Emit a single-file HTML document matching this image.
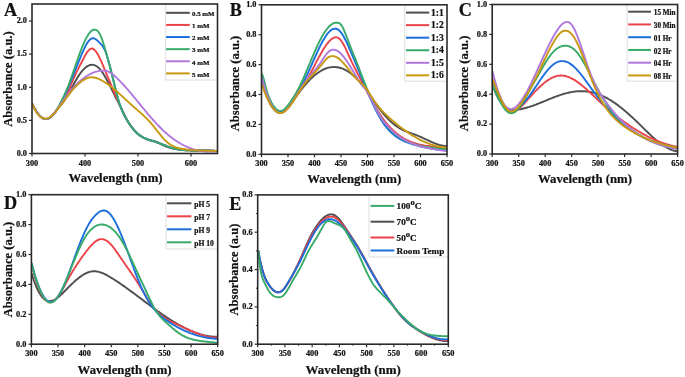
<!DOCTYPE html>
<html><head><meta charset="utf-8"><style>
html,body{margin:0;padding:0;background:#fff;}
svg{display:block;}
text{font-family:"Liberation Serif", serif;fill:#111;stroke:#111;stroke-width:0.22px;}
svg{-webkit-font-smoothing:antialiased;will-change:transform;filter:blur(0.3px);}
</style></head><body>
<svg width="685" height="377" viewBox="0 0 685 377">
<rect width="685" height="377" fill="#fff"/>
<clipPath id="clipA"><rect x="32.00" y="4.00" width="185.50" height="149.50"/></clipPath>
<g clip-path="url(#clipA)" fill="none" stroke-width="1.90" stroke-linejoin="round" stroke-linecap="round">
<path d="M32.2 104.0 L33.2 106.0 34.2 107.8 35.2 109.6 36.2 111.2 37.2 112.7 38.2 114.0 39.2 115.2 40.2 116.2 41.2 117.1 42.2 117.8 43.2 118.4 44.2 118.8 45.2 119.0 46.2 119.1 47.2 119.0 48.2 118.7 49.2 118.2 50.2 117.5 51.2 116.7 52.2 115.6 53.2 114.4 54.2 113.2 55.2 111.8 56.2 110.5 57.2 109.2 58.2 108.0 59.2 106.9 60.2 105.7 61.2 104.6 62.2 103.4 63.2 102.2 64.2 100.8 65.2 99.3 66.2 97.7 67.2 96.1 68.2 94.4 69.2 92.6 70.2 90.7 71.2 88.9 72.2 87.0 73.2 85.2 74.2 83.3 75.2 81.5 76.2 79.7 77.2 78.0 78.2 76.4 79.2 74.9 80.2 73.5 81.2 72.1 82.2 70.9 83.2 69.8 84.2 68.8 85.2 67.8 86.2 67.0 87.2 66.4 88.2 65.8 89.2 65.4 90.2 65.0 91.2 64.9 92.2 64.8 93.2 64.9 94.2 65.1 95.2 65.5 96.2 66.0 97.2 66.6 98.2 67.4 99.2 68.4 100.2 69.5 101.2 70.8 102.2 72.1 103.2 73.6 104.2 75.2 105.2 76.9 106.2 78.7 107.2 80.5 108.2 82.4 109.2 84.3 110.2 86.3 111.2 88.3 112.2 90.3 113.2 92.3 114.2 94.4 115.2 96.5 116.2 98.5 117.2 100.4 118.2 102.2 119.2 104.0 120.2 106.0 121.2 108.1 122.2 110.2 123.2 112.3 124.2 114.4 125.2 116.4 126.2 118.4 127.2 120.2 128.2 122.0 129.2 123.6 130.2 125.2 131.2 126.6 132.2 128.0 133.2 129.2 134.2 130.4 135.2 131.5 136.2 132.5 137.2 133.4 138.2 134.2 139.2 135.0 140.2 135.7 141.2 136.4 142.2 137.0 143.2 137.5 144.2 138.0 145.2 138.5 146.2 138.9 147.2 139.2 148.2 139.5 149.2 139.8 150.2 140.1 151.2 140.3 152.2 140.6 153.2 140.8 154.2 141.1 155.2 141.4 156.2 141.8 157.2 142.2 158.2 142.7 159.2 143.2 160.2 143.7 161.2 144.3 162.2 144.8 163.2 145.3 164.2 145.7 165.2 146.2 166.2 146.6 167.2 146.9 168.2 147.2 169.2 147.5 170.2 147.8 171.2 148.0 172.2 148.3 173.2 148.5 174.2 148.6 175.2 148.8 176.2 148.9 177.2 149.1 178.2 149.2 179.2 149.3 180.2 149.4 181.2 149.5 182.2 149.6 183.2 149.7 184.2 149.7 185.2 149.8 186.2 149.9 187.2 150.0 188.2 150.0 189.2 150.1 190.2 150.2 191.2 150.2 192.2 150.3 193.2 150.3 194.2 150.4 195.2 150.4 196.2 150.5 197.2 150.5 198.2 150.6 199.2 150.6 200.2 150.6 201.2 150.7 202.2 150.7 203.2 150.7 204.2 150.8 205.2 150.8 206.2 150.8 207.2 150.8 208.2 150.9 209.2 150.9 210.2 150.9 211.2 150.9 212.2 150.9 213.2 151.0 214.2 151.0 215.2 151.0 216.2 151.0 217.2 151.0 217.5 151.0" stroke="#4F4F4F"/>
<path d="M32.2 104.0 L33.2 105.9 34.2 107.8 35.2 109.5 36.2 111.2 37.2 112.7 38.2 114.0 39.2 115.2 40.2 116.3 41.2 117.2 42.2 118.0 43.2 118.5 44.2 118.9 45.2 119.1 46.2 119.1 47.2 118.9 48.2 118.5 49.2 118.0 50.2 117.3 51.2 116.5 52.2 115.5 53.2 114.5 54.2 113.3 55.2 112.1 56.2 110.8 57.2 109.5 58.2 108.2 59.2 106.8 60.2 105.3 61.2 103.9 62.2 102.3 63.2 100.7 64.2 99.0 65.2 97.2 66.2 95.3 67.2 93.3 68.2 91.2 69.2 89.0 70.2 86.7 71.2 84.3 72.2 81.9 73.2 79.5 74.2 77.2 75.2 75.0 76.2 72.9 77.2 70.8 78.2 68.8 79.2 66.9 80.2 64.9 81.2 63.0 82.2 61.0 83.2 59.1 84.2 57.2 85.2 55.3 86.2 53.7 87.2 52.1 88.2 50.8 89.2 49.8 90.2 49.0 91.2 48.6 92.2 48.5 93.2 48.9 94.2 49.6 95.2 50.6 96.2 51.8 97.2 53.4 98.2 55.1 99.2 57.0 100.2 59.1 101.2 61.3 102.2 63.5 103.2 65.9 104.2 68.3 105.2 70.7 106.2 73.1 107.2 75.6 108.2 78.0 109.2 80.4 110.2 82.7 111.2 85.1 112.2 87.5 113.2 89.9 114.2 92.2 115.2 94.6 116.2 96.9 117.2 99.2 118.2 101.5 119.2 103.8 120.2 106.1 121.2 108.4 122.2 110.6 123.2 112.7 124.2 114.8 125.2 116.7 126.2 118.6 127.2 120.3 128.2 122.0 129.2 123.5 130.2 125.0 131.2 126.4 132.2 127.7 133.2 129.0 134.2 130.1 135.2 131.2 136.2 132.2 137.2 133.2 138.2 134.0 139.2 134.9 140.2 135.6 141.2 136.3 142.2 136.9 143.2 137.5 144.2 138.0 145.2 138.5 146.2 138.9 147.2 139.3 148.2 139.7 149.2 140.0 150.2 140.3 151.2 140.6 152.2 140.9 153.2 141.2 154.2 141.5 155.2 141.8 156.2 142.2 157.2 142.5 158.2 142.8 159.2 143.2 160.2 143.6 161.2 144.0 162.2 144.3 163.2 144.7 164.2 145.1 165.2 145.5 166.2 145.9 167.2 146.3 168.2 146.6 169.2 147.0 170.2 147.3 171.2 147.7 172.2 148.0 173.2 148.2 174.2 148.5 175.2 148.7 176.2 149.0 177.2 149.2 178.2 149.4 179.2 149.5 180.2 149.7 181.2 149.8 182.2 149.9 183.2 150.0 184.2 150.1 185.2 150.2 186.2 150.3 187.2 150.3 188.2 150.4 189.2 150.4 190.2 150.4 191.2 150.5 192.2 150.5 193.2 150.5 194.2 150.5 195.2 150.5 196.2 150.5 197.2 150.5 198.2 150.5 199.2 150.5 200.2 150.5 201.2 150.5 202.2 150.4 203.2 150.4 204.2 150.4 205.2 150.4 206.2 150.4 207.2 150.5 208.2 150.5 209.2 150.5 210.2 150.5 211.2 150.6 212.2 150.6 213.2 150.7 214.2 150.8 215.2 150.9 216.2 151.0 217.2 151.1 217.5 151.1" stroke="#EC4249"/>
<path d="M32.2 103.9 L33.2 106.0 34.2 107.8 35.2 109.6 36.2 111.2 37.2 112.7 38.2 114.0 39.2 115.2 40.2 116.3 41.2 117.2 42.2 117.9 43.2 118.4 44.2 118.8 45.2 119.0 46.2 119.0 47.2 118.9 48.2 118.6 49.2 118.1 50.2 117.4 51.2 116.6 52.2 115.7 53.2 114.6 54.2 113.4 55.2 112.1 56.2 110.7 57.2 109.2 58.2 107.6 59.2 105.9 60.2 104.1 61.2 102.2 62.2 100.3 63.2 98.3 64.2 96.2 65.2 94.0 66.2 91.9 67.2 89.6 68.2 87.3 69.2 85.0 70.2 82.6 71.2 80.2 72.2 77.8 73.2 75.4 74.2 72.9 75.2 70.4 76.2 67.9 77.2 65.4 78.2 62.9 79.2 60.4 80.2 58.0 81.2 55.5 82.2 53.1 83.2 50.9 84.2 48.7 85.2 46.6 86.2 44.8 87.2 43.1 88.2 41.6 89.2 40.4 90.2 39.4 91.2 38.7 92.2 38.3 93.2 38.2 94.2 38.5 95.2 39.0 96.2 39.6 97.2 40.4 98.2 41.3 99.2 42.3 100.2 43.3 101.2 44.3 102.2 45.5 103.2 47.0 104.2 48.8 105.2 50.9 106.2 53.5 107.2 56.5 108.2 59.9 109.2 63.5 110.2 67.3 111.2 71.3 112.2 75.5 113.2 79.6 114.2 83.8 115.2 87.9 116.2 92.0 117.2 95.8 118.2 99.4 119.2 102.7 120.2 105.7 121.2 108.4 122.2 110.9 123.2 113.1 124.2 115.2 125.2 117.0 126.2 118.8 127.2 120.4 128.2 122.0 129.2 123.5 130.2 125.0 131.2 126.3 132.2 127.7 133.2 128.9 134.2 130.1 135.2 131.2 136.2 132.3 137.2 133.2 138.2 134.1 139.2 134.9 140.2 135.7 141.2 136.3 142.2 137.0 143.2 137.5 144.2 138.0 145.2 138.5 146.2 138.9 147.2 139.3 148.2 139.7 149.2 140.0 150.2 140.3 151.2 140.6 152.2 140.9 153.2 141.2 154.2 141.5 155.2 141.8 156.2 142.1 157.2 142.5 158.2 142.8 159.2 143.2 160.2 143.6 161.2 144.0 162.2 144.4 163.2 144.7 164.2 145.1 165.2 145.5 166.2 145.9 167.2 146.3 168.2 146.6 169.2 147.0 170.2 147.3 171.2 147.7 172.2 148.0 173.2 148.2 174.2 148.5 175.2 148.8 176.2 149.0 177.2 149.2 178.2 149.4 179.2 149.5 180.2 149.7 181.2 149.8 182.2 149.9 183.2 150.0 184.2 150.1 185.2 150.2 186.2 150.3 187.2 150.3 188.2 150.4 189.2 150.4 190.2 150.4 191.2 150.5 192.2 150.5 193.2 150.5 194.2 150.5 195.2 150.5 196.2 150.5 197.2 150.5 198.2 150.5 199.2 150.5 200.2 150.5 201.2 150.4 202.2 150.4 203.2 150.4 204.2 150.4 205.2 150.4 206.2 150.4 207.2 150.5 208.2 150.5 209.2 150.5 210.2 150.5 211.2 150.6 212.2 150.6 213.2 150.7 214.2 150.8 215.2 150.9 216.2 151.0 217.2 151.1 217.5 151.1" stroke="#1C6FDC"/>
<path d="M32.2 103.9 L33.2 106.0 34.2 107.9 35.2 109.7 36.2 111.4 37.2 112.8 38.2 114.1 39.2 115.3 40.2 116.3 41.2 117.1 42.2 117.8 43.2 118.3 44.2 118.7 45.2 118.9 46.2 118.9 47.2 118.8 48.2 118.5 49.2 118.1 50.2 117.5 51.2 116.8 52.2 115.9 53.2 114.8 54.2 113.6 55.2 112.3 56.2 110.8 57.2 109.1 58.2 107.3 59.2 105.4 60.2 103.4 61.2 101.4 62.2 99.4 63.2 97.4 64.2 95.4 65.2 93.2 66.2 90.9 67.2 88.5 68.2 86.0 69.2 83.4 70.2 80.6 71.2 77.8 72.2 75.0 73.2 72.1 74.2 69.2 75.2 66.3 76.2 63.4 77.2 60.5 78.2 57.7 79.2 54.9 80.2 52.2 81.2 49.5 82.2 47.0 83.2 44.6 84.2 42.3 85.2 40.2 86.2 38.2 87.2 36.4 88.2 34.7 89.2 33.3 90.2 32.1 91.2 31.1 92.2 30.3 93.2 29.8 94.2 29.6 95.2 29.7 96.2 30.0 97.2 30.7 98.2 31.7 99.2 33.1 100.2 34.9 101.2 37.1 102.2 39.7 103.2 42.7 104.2 46.0 105.2 49.4 106.2 53.0 107.2 56.7 108.2 60.4 109.2 64.1 110.2 67.9 111.2 71.8 112.2 75.7 113.2 79.7 114.2 83.7 115.2 87.8 116.2 91.8 117.2 95.7 118.2 99.4 119.2 102.7 120.2 105.7 121.2 108.3 122.2 110.7 123.2 112.9 124.2 115.0 125.2 116.9 126.2 118.7 127.2 120.4 128.2 122.1 129.2 123.6 130.2 125.1 131.2 126.5 132.2 127.8 133.2 129.0 134.2 130.2 135.2 131.3 136.2 132.3 137.2 133.2 138.2 134.1 139.2 134.9 140.2 135.6 141.2 136.3 142.2 136.9 143.2 137.5 144.2 138.0 145.2 138.4 146.2 138.9 147.2 139.2 148.2 139.6 149.2 140.0 150.2 140.3 151.2 140.6 152.2 140.9 153.2 141.2 154.2 141.5 155.2 141.8 156.2 142.2 157.2 142.5 158.2 142.9 159.2 143.2 160.2 143.6 161.2 144.0 162.2 144.4 163.2 144.8 164.2 145.2 165.2 145.5 166.2 145.9 167.2 146.3 168.2 146.7 169.2 147.0 170.2 147.3 171.2 147.7 172.2 148.0 173.2 148.2 174.2 148.5 175.2 148.7 176.2 149.0 177.2 149.2 178.2 149.3 179.2 149.5 180.2 149.7 181.2 149.8 182.2 149.9 183.2 150.0 184.2 150.1 185.2 150.2 186.2 150.3 187.2 150.3 188.2 150.4 189.2 150.4 190.2 150.4 191.2 150.5 192.2 150.5 193.2 150.5 194.2 150.5 195.2 150.5 196.2 150.5 197.2 150.5 198.2 150.5 199.2 150.5 200.2 150.5 201.2 150.5 202.2 150.5 203.2 150.4 204.2 150.4 205.2 150.4 206.2 150.5 207.2 150.5 208.2 150.5 209.2 150.5 210.2 150.5 211.2 150.6 212.2 150.6 213.2 150.7 214.2 150.8 215.2 150.9 216.2 151.0 217.2 151.1 217.5 151.1" stroke="#37AA6A"/>
<path d="M32.2 103.8 L33.2 106.0 34.2 108.0 35.2 109.8 36.2 111.4 37.2 112.9 38.2 114.2 39.2 115.4 40.2 116.4 41.2 117.2 42.2 117.8 43.2 118.3 44.2 118.6 45.2 118.8 46.2 118.8 47.2 118.7 48.2 118.4 49.2 117.9 50.2 117.3 51.2 116.5 52.2 115.6 53.2 114.6 54.2 113.4 55.2 112.2 56.2 110.8 57.2 109.4 58.2 108.0 59.2 106.5 60.2 105.0 61.2 103.5 62.2 102.1 63.2 100.6 64.2 99.2 65.2 97.8 66.2 96.5 67.2 95.1 68.2 93.8 69.2 92.6 70.2 91.3 71.2 90.1 72.2 89.0 73.2 87.8 74.2 86.7 75.2 85.7 76.2 84.7 77.2 83.7 78.2 82.7 79.2 81.8 80.2 80.9 81.2 80.1 82.2 79.2 83.2 78.5 84.2 77.7 85.2 77.0 86.2 76.3 87.2 75.7 88.2 75.1 89.2 74.5 90.2 74.0 91.2 73.5 92.2 73.1 93.2 72.7 94.2 72.3 95.2 71.9 96.2 71.6 97.2 71.4 98.2 71.1 99.2 70.9 100.2 70.8 101.2 70.7 102.2 70.6 103.2 70.6 104.2 70.6 105.2 70.7 106.2 70.9 107.2 71.2 108.2 71.6 109.2 72.0 110.2 72.6 111.2 73.2 112.2 74.0 113.2 74.8 114.2 75.6 115.2 76.5 116.2 77.4 117.2 78.3 118.2 79.3 119.2 80.3 120.2 81.3 121.2 82.3 122.2 83.4 123.2 84.5 124.2 85.6 125.2 86.7 126.2 87.8 127.2 89.0 128.2 90.1 129.2 91.3 130.2 92.5 131.2 93.7 132.2 94.9 133.2 96.1 134.2 97.3 135.2 98.5 136.2 99.7 137.2 101.0 138.2 102.2 139.2 103.4 140.2 104.6 141.2 105.9 142.2 107.1 143.2 108.3 144.2 109.5 145.2 110.7 146.2 111.9 147.2 113.1 148.2 114.3 149.2 115.4 150.2 116.6 151.2 117.8 152.2 118.9 153.2 120.0 154.2 121.1 155.2 122.2 156.2 123.3 157.2 124.4 158.2 125.4 159.2 126.5 160.2 127.5 161.2 128.5 162.2 129.5 163.2 130.4 164.2 131.4 165.2 132.3 166.2 133.2 167.2 134.1 168.2 134.9 169.2 135.7 170.2 136.5 171.2 137.3 172.2 138.1 173.2 138.8 174.2 139.6 175.2 140.2 176.2 140.9 177.2 141.6 178.2 142.2 179.2 142.8 180.2 143.4 181.2 144.0 182.2 144.5 183.2 145.0 184.2 145.5 185.2 146.0 186.2 146.5 187.2 146.9 188.2 147.4 189.2 147.8 190.2 148.1 191.2 148.5 192.2 148.8 193.2 149.2 194.2 149.5 195.2 149.7 196.2 150.0 197.2 150.2 198.2 150.5 199.2 150.7 200.2 150.8 201.2 151.0 202.2 151.1 203.2 151.3 204.2 151.4 205.2 151.5 206.2 151.5 207.2 151.6 208.2 151.6 209.2 151.6 210.2 151.6 211.2 151.6 212.2 151.6 213.2 151.5 214.2 151.5 215.2 151.4 216.2 151.3 217.2 151.1 217.5 151.1" stroke="#B078DD"/>
<path d="M32.2 103.7 L33.2 106.0 34.2 108.1 35.2 110.0 36.2 111.7 37.2 113.2 38.2 114.5 39.2 115.6 40.2 116.5 41.2 117.3 42.2 117.9 43.2 118.3 44.2 118.5 45.2 118.6 46.2 118.6 47.2 118.4 48.2 118.1 49.2 117.6 50.2 117.0 51.2 116.2 52.2 115.4 53.2 114.4 54.2 113.4 55.2 112.3 56.2 111.1 57.2 109.8 58.2 108.5 59.2 107.2 60.2 105.9 61.2 104.6 62.2 103.3 63.2 101.9 64.2 100.6 65.2 99.3 66.2 98.0 67.2 96.7 68.2 95.4 69.2 94.1 70.2 92.9 71.2 91.7 72.2 90.5 73.2 89.3 74.2 88.2 75.2 87.1 76.2 86.1 77.2 85.1 78.2 84.1 79.2 83.2 80.2 82.4 81.2 81.6 82.2 80.8 83.2 80.2 84.2 79.6 85.2 79.0 86.2 78.5 87.2 78.1 88.2 77.8 89.2 77.6 90.2 77.4 91.2 77.3 92.2 77.3 93.2 77.4 94.2 77.5 95.2 77.8 96.2 78.0 97.2 78.4 98.2 78.7 99.2 79.2 100.2 79.6 101.2 80.1 102.2 80.7 103.2 81.3 104.2 81.9 105.2 82.5 106.2 83.1 107.2 83.8 108.2 84.5 109.2 85.3 110.2 86.0 111.2 86.8 112.2 87.6 113.2 88.4 114.2 89.3 115.2 90.1 116.2 91.0 117.2 91.8 118.2 92.7 119.2 93.6 120.2 94.5 121.2 95.4 122.2 96.3 123.2 97.2 124.2 98.2 125.2 99.1 126.2 100.0 127.2 100.9 128.2 101.9 129.2 102.8 130.2 103.7 131.2 104.6 132.2 105.5 133.2 106.4 134.2 107.3 135.2 108.2 136.2 109.0 137.2 109.9 138.2 110.8 139.2 111.6 140.2 112.5 141.2 113.4 142.2 114.3 143.2 115.2 144.2 116.2 145.2 117.1 146.2 118.1 147.2 119.1 148.2 120.1 149.2 121.2 150.2 122.3 151.2 123.4 152.2 124.6 153.2 125.8 154.2 127.0 155.2 128.3 156.2 129.6 157.2 130.8 158.2 132.1 159.2 133.4 160.2 134.7 161.2 135.9 162.2 137.1 163.2 138.3 164.2 139.4 165.2 140.4 166.2 141.3 167.2 142.2 168.2 143.0 169.2 143.7 170.2 144.4 171.2 145.0 172.2 145.6 173.2 146.1 174.2 146.6 175.2 147.0 176.2 147.3 177.2 147.7 178.2 148.0 179.2 148.2 180.2 148.5 181.2 148.7 182.2 148.9 183.2 149.0 184.2 149.2 185.2 149.3 186.2 149.5 187.2 149.6 188.2 149.7 189.2 149.8 190.2 149.9 191.2 150.0 192.2 150.1 193.2 150.1 194.2 150.2 195.2 150.3 196.2 150.3 197.2 150.4 198.2 150.4 199.2 150.4 200.2 150.5 201.2 150.5 202.2 150.5 203.2 150.6 204.2 150.6 205.2 150.6 206.2 150.7 207.2 150.7 208.2 150.7 209.2 150.7 210.2 150.8 211.2 150.8 212.2 150.8 213.2 150.9 214.2 150.9 215.2 151.0 216.2 151.0 217.2 151.1 217.5 151.1" stroke="#C79810"/>
</g>
<path d="M165.60 4.00 V80.00 H217.50" fill="none" stroke="#d4d4d4" stroke-width="0.8"/>
<line x1="166.10" y1="12.80" x2="189.80" y2="12.80" stroke="#4F4F4F" stroke-width="2"/>
<text x="192.00" y="16.10" font-size="6.90" text-anchor="start" font-weight="bold" >0.5 mM</text>
<line x1="166.10" y1="24.92" x2="189.80" y2="24.92" stroke="#EC4249" stroke-width="2"/>
<text x="192.00" y="28.22" font-size="6.90" text-anchor="start" font-weight="bold" >1 mM</text>
<line x1="166.10" y1="37.04" x2="189.80" y2="37.04" stroke="#1C6FDC" stroke-width="2"/>
<text x="192.00" y="40.34" font-size="6.90" text-anchor="start" font-weight="bold" >2 mM</text>
<line x1="166.10" y1="49.16" x2="189.80" y2="49.16" stroke="#37AA6A" stroke-width="2"/>
<text x="192.00" y="52.46" font-size="6.90" text-anchor="start" font-weight="bold" >3 mM</text>
<line x1="166.10" y1="61.28" x2="189.80" y2="61.28" stroke="#B078DD" stroke-width="2"/>
<text x="192.00" y="64.58" font-size="6.90" text-anchor="start" font-weight="bold" >4 mM</text>
<line x1="166.10" y1="73.40" x2="189.80" y2="73.40" stroke="#C79810" stroke-width="2"/>
<text x="192.00" y="76.70" font-size="6.90" text-anchor="start" font-weight="bold" >5 mM</text>
<rect x="32.00" y="4.00" width="185.50" height="149.50" fill="none" stroke="#2a2a2a" stroke-width="1.6"/>
<line x1="32.00" y1="153.50" x2="32.00" y2="156.50" stroke="#2a2a2a" stroke-width="1.2"/>
<text x="32.00" y="165.50" font-size="8.30" text-anchor="middle" font-weight="bold" >300</text>
<line x1="85.00" y1="153.50" x2="85.00" y2="156.50" stroke="#2a2a2a" stroke-width="1.2"/>
<text x="85.00" y="165.50" font-size="8.30" text-anchor="middle" font-weight="bold" >400</text>
<line x1="138.00" y1="153.50" x2="138.00" y2="156.50" stroke="#2a2a2a" stroke-width="1.2"/>
<text x="138.00" y="165.50" font-size="8.30" text-anchor="middle" font-weight="bold" >500</text>
<line x1="191.00" y1="153.50" x2="191.00" y2="156.50" stroke="#2a2a2a" stroke-width="1.2"/>
<text x="191.00" y="165.50" font-size="8.30" text-anchor="middle" font-weight="bold" >600</text>
<line x1="29.00" y1="153.50" x2="32.00" y2="153.50" stroke="#2a2a2a" stroke-width="1.2"/>
<text x="27.00" y="155.82" font-size="8.30" text-anchor="end" font-weight="bold" >0.0</text>
<line x1="29.00" y1="120.38" x2="32.00" y2="120.38" stroke="#2a2a2a" stroke-width="1.2"/>
<text x="27.00" y="122.70" font-size="8.30" text-anchor="end" font-weight="bold" >0.5</text>
<line x1="29.00" y1="87.25" x2="32.00" y2="87.25" stroke="#2a2a2a" stroke-width="1.2"/>
<text x="27.00" y="89.57" font-size="8.30" text-anchor="end" font-weight="bold" >1.0</text>
<line x1="29.00" y1="54.12" x2="32.00" y2="54.12" stroke="#2a2a2a" stroke-width="1.2"/>
<text x="27.00" y="56.45" font-size="8.30" text-anchor="end" font-weight="bold" >1.5</text>
<line x1="29.00" y1="21.00" x2="32.00" y2="21.00" stroke="#2a2a2a" stroke-width="1.2"/>
<text x="27.00" y="23.32" font-size="8.30" text-anchor="end" font-weight="bold" >2.0</text>
<text x="115.60" y="182.20" font-size="13.35" text-anchor="middle" font-weight="bold" textLength="94.0" lengthAdjust="spacingAndGlyphs">Wavelength (nm)</text>
<text transform="translate(12.40 79.00) rotate(-90)" x="0" y="0" font-size="13.35" text-anchor="middle" font-weight="bold" textLength="95.5" lengthAdjust="spacingAndGlyphs">Absorbance (a.u.)</text>
<text x="4.00" y="15.90" font-size="18.20" text-anchor="start" font-weight="bold" >A</text>
<clipPath id="clipB"><rect x="261.50" y="4.80" width="185.50" height="149.50"/></clipPath>
<g clip-path="url(#clipB)" fill="none" stroke-width="1.90" stroke-linejoin="round" stroke-linecap="round">
<path d="M261.7 82.4 L262.7 85.5 263.7 88.5 264.7 91.3 265.7 94.0 266.7 96.5 267.7 98.8 268.7 100.9 269.7 102.9 270.7 104.7 271.7 106.4 272.7 107.8 273.7 109.1 274.7 110.2 275.7 111.1 276.7 111.8 277.7 112.4 278.7 112.7 279.7 112.9 280.7 112.9 281.7 112.7 282.7 112.3 283.7 111.7 284.7 111.0 285.7 110.2 286.7 109.2 287.7 108.1 288.7 106.9 289.7 105.7 290.7 104.4 291.7 103.0 292.7 101.6 293.7 100.1 294.7 98.7 295.7 97.3 296.7 95.9 297.7 94.5 298.7 93.1 299.7 91.8 300.7 90.4 301.7 89.1 302.7 87.9 303.7 86.6 304.7 85.4 305.7 84.3 306.7 83.1 307.7 82.0 308.7 81.0 309.7 79.9 310.7 78.9 311.7 78.0 312.7 77.0 313.7 76.1 314.7 75.3 315.7 74.5 316.7 73.7 317.7 73.0 318.7 72.3 319.7 71.6 320.7 71.0 321.7 70.4 322.7 69.9 323.7 69.4 324.7 69.0 325.7 68.6 326.7 68.2 327.7 67.9 328.7 67.6 329.7 67.4 330.7 67.3 331.7 67.1 332.7 67.1 333.7 67.0 334.7 67.0 335.7 67.1 336.7 67.2 337.7 67.3 338.7 67.5 339.7 67.8 340.7 68.0 341.7 68.4 342.7 68.7 343.7 69.2 344.7 69.6 345.7 70.1 346.7 70.7 347.7 71.3 348.7 71.9 349.7 72.6 350.7 73.3 351.7 74.1 352.7 75.0 353.7 75.8 354.7 76.7 355.7 77.7 356.7 78.6 357.7 79.6 358.7 80.7 359.7 81.8 360.7 82.9 361.7 84.0 362.7 85.1 363.7 86.4 364.7 87.6 365.7 88.9 366.7 90.3 367.7 91.7 368.7 93.2 369.7 94.7 370.7 96.2 371.7 97.7 372.7 99.2 373.7 100.7 374.7 102.2 375.7 103.7 376.7 105.1 377.7 106.5 378.7 107.8 379.7 109.2 380.7 110.5 381.7 111.7 382.7 112.9 383.7 114.1 384.7 115.3 385.7 116.4 386.7 117.5 387.7 118.5 388.7 119.6 389.7 120.5 390.7 121.5 391.7 122.4 392.7 123.3 393.7 124.1 394.7 124.9 395.7 125.6 396.7 126.3 397.7 127.0 398.7 127.7 399.7 128.3 400.7 128.8 401.7 129.3 402.7 129.8 403.7 130.3 404.7 130.8 405.7 131.2 406.7 131.6 407.7 132.0 408.7 132.4 409.7 132.7 410.7 133.1 411.7 133.5 412.7 133.8 413.7 134.2 414.7 134.5 415.7 134.9 416.7 135.3 417.7 135.7 418.7 136.1 419.7 136.5 420.7 137.0 421.7 137.4 422.7 137.9 423.7 138.3 424.7 138.8 425.7 139.3 426.7 139.7 427.7 140.2 428.7 140.7 429.7 141.2 430.7 141.6 431.7 142.0 432.7 142.5 433.7 142.9 434.7 143.3 435.7 143.7 436.7 144.0 437.7 144.4 438.7 144.7 439.7 145.0 440.7 145.2 441.7 145.5 442.7 145.7 443.7 145.8 444.7 145.9 445.7 146.0 446.7 146.0 447.5 146.0" stroke="#4F4F4F"/>
<path d="M261.7 78.0 L262.7 81.5 263.7 84.8 264.7 88.0 265.7 90.9 266.7 93.7 267.7 96.3 268.7 98.7 269.7 101.0 270.7 103.0 271.7 104.9 272.7 106.5 273.7 108.0 274.7 109.3 275.7 110.3 276.7 111.2 277.7 111.9 278.7 112.3 279.7 112.6 280.7 112.6 281.7 112.4 282.7 112.1 283.7 111.5 284.7 110.8 285.7 109.9 286.7 108.9 287.7 107.7 288.7 106.5 289.7 105.2 290.7 103.8 291.7 102.3 292.7 100.8 293.7 99.4 294.7 97.9 295.7 96.4 296.7 94.9 297.7 93.5 298.7 92.1 299.7 90.6 300.7 89.2 301.7 87.7 302.7 86.2 303.7 84.7 304.7 83.1 305.7 81.5 306.7 79.9 307.7 78.2 308.7 76.4 309.7 74.6 310.7 72.8 311.7 70.9 312.7 69.0 313.7 67.1 314.7 65.2 315.7 63.2 316.7 61.3 317.7 59.4 318.7 57.6 319.7 55.7 320.7 53.9 321.7 52.2 322.7 50.5 323.7 48.8 324.7 47.3 325.7 45.8 326.7 44.4 327.7 43.1 328.7 41.9 329.7 40.8 330.7 39.8 331.7 39.0 332.7 38.3 333.7 37.8 334.7 37.4 335.7 37.3 336.7 37.4 337.7 37.7 338.7 38.2 339.7 39.0 340.7 40.1 341.7 41.5 342.7 43.0 343.7 44.8 344.7 46.7 345.7 48.7 346.7 50.9 347.7 53.1 348.7 55.3 349.7 57.5 350.7 59.7 351.7 61.8 352.7 63.8 353.7 65.9 354.7 67.9 355.7 69.8 356.7 71.7 357.7 73.6 358.7 75.5 359.7 77.4 360.7 79.4 361.7 81.3 362.7 83.2 363.7 85.1 364.7 87.0 365.7 89.0 366.7 90.9 367.7 92.8 368.7 94.7 369.7 96.6 370.7 98.4 371.7 100.3 372.7 102.1 373.7 103.9 374.7 105.7 375.7 107.4 376.7 109.1 377.7 110.8 378.7 112.4 379.7 113.9 380.7 115.4 381.7 116.9 382.7 118.3 383.7 119.7 384.7 121.0 385.7 122.3 386.7 123.5 387.7 124.7 388.7 125.8 389.7 126.9 390.7 128.0 391.7 129.0 392.7 130.0 393.7 130.9 394.7 131.8 395.7 132.7 396.7 133.5 397.7 134.3 398.7 135.1 399.7 135.8 400.7 136.5 401.7 137.1 402.7 137.8 403.7 138.4 404.7 138.9 405.7 139.5 406.7 140.0 407.7 140.5 408.7 140.9 409.7 141.4 410.7 141.8 411.7 142.2 412.7 142.5 413.7 142.9 414.7 143.2 415.7 143.5 416.7 143.8 417.7 144.1 418.7 144.3 419.7 144.6 420.7 144.8 421.7 145.0 422.7 145.2 423.7 145.4 424.7 145.6 425.7 145.7 426.7 145.9 427.7 146.0 428.7 146.2 429.7 146.3 430.7 146.4 431.7 146.5 432.7 146.7 433.7 146.8 434.7 146.9 435.7 147.0 436.7 147.1 437.7 147.2 438.7 147.4 439.7 147.5 440.7 147.6 441.7 147.7 442.7 147.9 443.7 148.0 444.7 148.1 445.7 148.3 446.7 148.5 447.5 148.6" stroke="#EC4249"/>
<path d="M261.7 75.7 L262.7 79.6 263.7 83.2 264.7 86.6 265.7 89.8 266.7 92.8 267.7 95.6 268.7 98.1 269.7 100.5 270.7 102.6 271.7 104.5 272.7 106.1 273.7 107.6 274.7 108.9 275.7 109.9 276.7 110.8 277.7 111.4 278.7 111.8 279.7 112.0 280.7 112.0 281.7 111.8 282.7 111.5 283.7 110.9 284.7 110.2 285.7 109.3 286.7 108.3 287.7 107.1 288.7 105.9 289.7 104.5 290.7 103.1 291.7 101.6 292.7 100.1 293.7 98.5 294.7 96.9 295.7 95.3 296.7 93.7 297.7 92.1 298.7 90.4 299.7 88.7 300.7 87.0 301.7 85.3 302.7 83.5 303.7 81.6 304.7 79.7 305.7 77.7 306.7 75.6 307.7 73.5 308.7 71.3 309.7 69.1 310.7 66.9 311.7 64.6 312.7 62.3 313.7 60.1 314.7 57.8 315.7 55.5 316.7 53.3 317.7 51.1 318.7 49.0 319.7 46.9 320.7 44.9 321.7 43.0 322.7 41.1 323.7 39.4 324.7 37.7 325.7 36.2 326.7 34.7 327.7 33.4 328.7 32.3 329.7 31.3 330.7 30.4 331.7 29.7 332.7 29.2 333.7 28.9 334.7 28.7 335.7 28.7 336.7 29.0 337.7 29.4 338.7 30.1 339.7 30.9 340.7 32.1 341.7 33.4 342.7 34.9 343.7 36.6 344.7 38.5 345.7 40.4 346.7 42.5 347.7 44.7 348.7 47.0 349.7 49.3 350.7 51.6 351.7 53.9 352.7 56.2 353.7 58.6 354.7 60.9 355.7 63.3 356.7 65.7 357.7 68.1 358.7 70.5 359.7 72.9 360.7 75.3 361.7 77.7 362.7 80.1 363.7 82.5 364.7 85.0 365.7 87.4 366.7 89.7 367.7 92.1 368.7 94.5 369.7 96.8 370.7 99.1 371.7 101.3 372.7 103.5 373.7 105.7 374.7 107.8 375.7 109.8 376.7 111.8 377.7 113.7 378.7 115.6 379.7 117.3 380.7 119.0 381.7 120.7 382.7 122.2 383.7 123.7 384.7 125.1 385.7 126.4 386.7 127.6 387.7 128.8 388.7 130.0 389.7 131.0 390.7 132.0 391.7 133.0 392.7 133.9 393.7 134.8 394.7 135.6 395.7 136.3 396.7 137.0 397.7 137.7 398.7 138.3 399.7 138.9 400.7 139.5 401.7 140.0 402.7 140.5 403.7 141.0 404.7 141.4 405.7 141.8 406.7 142.2 407.7 142.6 408.7 142.9 409.7 143.3 410.7 143.6 411.7 143.9 412.7 144.3 413.7 144.6 414.7 144.9 415.7 145.1 416.7 145.4 417.7 145.7 418.7 146.0 419.7 146.2 420.7 146.5 421.7 146.7 422.7 146.9 423.7 147.1 424.7 147.3 425.7 147.6 426.7 147.7 427.7 147.9 428.7 148.1 429.7 148.3 430.7 148.4 431.7 148.6 432.7 148.8 433.7 148.9 434.7 149.0 435.7 149.2 436.7 149.3 437.7 149.4 438.7 149.5 439.7 149.6 440.7 149.7 441.7 149.8 442.7 149.8 443.7 149.9 444.7 150.0 445.7 150.0 446.7 150.1 447.5 150.1" stroke="#1C6FDC"/>
<path d="M261.7 73.8 L262.7 75.7 263.7 78.9 264.7 82.8 265.7 86.9 266.7 90.6 267.7 93.7 268.7 96.5 269.7 98.9 270.7 101.0 271.7 103.0 272.7 104.7 273.7 106.2 274.7 107.5 275.7 108.6 276.7 109.5 277.7 110.2 278.7 110.6 279.7 110.9 280.7 110.9 281.7 110.7 282.7 110.3 283.7 109.7 284.7 108.9 285.7 108.0 286.7 106.9 287.7 105.7 288.7 104.4 289.7 103.0 290.7 101.6 291.7 100.1 292.7 98.5 293.7 97.0 294.7 95.3 295.7 93.6 296.7 91.9 297.7 90.0 298.7 88.1 299.7 86.2 300.7 84.1 301.7 82.0 302.7 79.9 303.7 77.6 304.7 75.3 305.7 73.0 306.7 70.7 307.7 68.3 308.7 65.9 309.7 63.5 310.7 61.1 311.7 58.7 312.7 56.4 313.7 54.0 314.7 51.7 315.7 49.4 316.7 47.2 317.7 45.1 318.7 42.9 319.7 40.9 320.7 39.0 321.7 37.1 322.7 35.3 323.7 33.7 324.7 32.1 325.7 30.7 326.7 29.3 327.7 28.1 328.7 27.0 329.7 26.0 330.7 25.1 331.7 24.3 332.7 23.7 333.7 23.2 334.7 22.9 335.7 22.7 336.7 22.6 337.7 22.7 338.7 22.9 339.7 23.5 340.7 24.3 341.7 25.6 342.7 27.3 343.7 29.4 344.7 31.8 345.7 34.3 346.7 37.0 347.7 39.6 348.7 42.2 349.7 44.8 350.7 47.3 351.7 49.8 352.7 52.4 353.7 54.9 354.7 57.4 355.7 59.9 356.7 62.5 357.7 65.0 358.7 67.6 359.7 70.2 360.7 72.8 361.7 75.3 362.7 77.9 363.7 80.5 364.7 83.0 365.7 85.5 366.7 88.0 367.7 90.5 368.7 92.9 369.7 95.2 370.7 97.6 371.7 99.8 372.7 102.0 373.7 104.2 374.7 106.2 375.7 108.2 376.7 110.1 377.7 111.9 378.7 113.7 379.7 115.4 380.7 117.0 381.7 118.6 382.7 120.1 383.7 121.5 384.7 122.9 385.7 124.2 386.7 125.4 387.7 126.6 388.7 127.8 389.7 128.8 390.7 129.9 391.7 130.9 392.7 131.8 393.7 132.7 394.7 133.6 395.7 134.4 396.7 135.2 397.7 135.9 398.7 136.6 399.7 137.3 400.7 137.9 401.7 138.6 402.7 139.1 403.7 139.7 404.7 140.2 405.7 140.7 406.7 141.2 407.7 141.7 408.7 142.1 409.7 142.5 410.7 142.9 411.7 143.3 412.7 143.6 413.7 144.0 414.7 144.3 415.7 144.6 416.7 144.9 417.7 145.2 418.7 145.4 419.7 145.7 420.7 145.9 421.7 146.1 422.7 146.3 423.7 146.5 424.7 146.7 425.7 146.8 426.7 147.0 427.7 147.2 428.7 147.3 429.7 147.4 430.7 147.6 431.7 147.7 432.7 147.8 433.7 147.9 434.7 148.1 435.7 148.2 436.7 148.3 437.7 148.4 438.7 148.5 439.7 148.6 440.7 148.7 441.7 148.8 442.7 148.9 443.7 149.1 444.7 149.2 445.7 149.3 446.7 149.4 447.5 149.5" stroke="#37AA6A"/>
<path d="M261.7 77.0 L262.7 80.9 263.7 84.5 264.7 87.9 265.7 91.1 266.7 94.0 267.7 96.7 268.7 99.2 269.7 101.5 270.7 103.6 271.7 105.4 272.7 107.1 273.7 108.5 274.7 109.7 275.7 110.7 276.7 111.6 277.7 112.2 278.7 112.6 279.7 112.8 280.7 112.9 281.7 112.7 282.7 112.4 283.7 111.9 284.7 111.2 285.7 110.4 286.7 109.5 287.7 108.4 288.7 107.2 289.7 105.9 290.7 104.5 291.7 103.1 292.7 101.6 293.7 100.0 294.7 98.4 295.7 96.7 296.7 95.1 297.7 93.4 298.7 91.7 299.7 90.1 300.7 88.5 301.7 86.9 302.7 85.4 303.7 83.9 304.7 82.5 305.7 81.2 306.7 79.9 307.7 78.7 308.7 77.4 309.7 76.2 310.7 75.1 311.7 73.9 312.7 72.7 313.7 71.5 314.7 70.4 315.7 69.1 316.7 67.9 317.7 66.6 318.7 65.3 319.7 64.0 320.7 62.5 321.7 61.0 322.7 59.5 323.7 58.0 324.7 56.4 325.7 55.0 326.7 53.7 327.7 52.6 328.7 51.6 329.7 50.9 330.7 50.3 331.7 49.9 332.7 49.7 333.7 49.7 334.7 49.8 335.7 50.1 336.7 50.5 337.7 51.1 338.7 51.7 339.7 52.5 340.7 53.5 341.7 54.5 342.7 55.6 343.7 56.9 344.7 58.2 345.7 59.6 346.7 61.0 347.7 62.5 348.7 64.0 349.7 65.6 350.7 67.2 351.7 68.8 352.7 70.4 353.7 72.1 354.7 73.7 355.7 75.4 356.7 77.0 357.7 78.7 358.7 80.3 359.7 81.9 360.7 83.4 361.7 84.9 362.7 86.1 363.7 87.2 364.7 88.1 365.7 89.1 366.7 90.3 367.7 91.9 368.7 93.8 369.7 95.9 370.7 98.0 371.7 100.1 372.7 102.2 373.7 104.2 374.7 106.2 375.7 108.2 376.7 110.1 377.7 112.0 378.7 113.8 379.7 115.5 380.7 117.0 381.7 118.6 382.7 120.0 383.7 121.3 384.7 122.6 385.7 123.8 386.7 125.0 387.7 126.1 388.7 127.1 389.7 128.2 390.7 129.2 391.7 130.2 392.7 131.1 393.7 132.0 394.7 132.9 395.7 133.7 396.7 134.5 397.7 135.3 398.7 136.0 399.7 136.7 400.7 137.4 401.7 138.1 402.7 138.7 403.7 139.3 404.7 139.9 405.7 140.5 406.7 141.0 407.7 141.5 408.7 142.0 409.7 142.5 410.7 142.9 411.7 143.3 412.7 143.7 413.7 144.1 414.7 144.5 415.7 144.9 416.7 145.2 417.7 145.5 418.7 145.8 419.7 146.1 420.7 146.4 421.7 146.7 422.7 146.9 423.7 147.2 424.7 147.4 425.7 147.6 426.7 147.8 427.7 148.0 428.7 148.2 429.7 148.4 430.7 148.6 431.7 148.8 432.7 149.0 433.7 149.1 434.7 149.3 435.7 149.5 436.7 149.6 437.7 149.8 438.7 149.9 439.7 150.1 440.7 150.3 441.7 150.4 442.7 150.6 443.7 150.8 444.7 150.9 445.7 151.1 446.7 151.3 447.5 151.5" stroke="#B078DD"/>
<path d="M261.7 84.1 L262.7 86.9 263.7 89.7 264.7 92.3 265.7 94.7 266.7 97.0 267.7 99.2 268.7 101.2 269.7 103.1 270.7 104.8 271.7 106.4 272.7 107.8 273.7 109.0 274.7 110.1 275.7 111.0 276.7 111.8 277.7 112.4 278.7 112.8 279.7 113.0 280.7 113.0 281.7 112.9 282.7 112.6 283.7 112.1 284.7 111.4 285.7 110.7 286.7 109.7 287.7 108.7 288.7 107.5 289.7 106.3 290.7 105.0 291.7 103.5 292.7 102.1 293.7 100.6 294.7 99.0 295.7 97.4 296.7 95.8 297.7 94.2 298.7 92.6 299.7 91.0 300.7 89.4 301.7 87.9 302.7 86.5 303.7 85.1 304.7 83.7 305.7 82.4 306.7 81.2 307.7 80.0 308.7 78.9 309.7 77.8 310.7 76.7 311.7 75.6 312.7 74.6 313.7 73.5 314.7 72.5 315.7 71.4 316.7 70.3 317.7 69.3 318.7 68.1 319.7 67.0 320.7 65.8 321.7 64.6 322.7 63.3 323.7 62.0 324.7 60.8 325.7 59.7 326.7 58.7 327.7 57.8 328.7 57.1 329.7 56.6 330.7 56.3 331.7 56.1 332.7 56.1 333.7 56.2 334.7 56.4 335.7 56.8 336.7 57.3 337.7 57.9 338.7 58.6 339.7 59.4 340.7 60.3 341.7 61.3 342.7 62.3 343.7 63.4 344.7 64.6 345.7 65.7 346.7 67.0 347.7 68.2 348.7 69.5 349.7 70.8 350.7 72.0 351.7 73.3 352.7 74.6 353.7 75.8 354.7 77.0 355.7 78.1 356.7 79.1 357.7 80.1 358.7 81.0 359.7 81.9 360.7 82.8 361.7 83.6 362.7 84.6 363.7 85.5 364.7 86.6 365.7 87.8 366.7 89.1 367.7 90.6 368.7 92.2 369.7 93.8 370.7 95.4 371.7 97.0 372.7 98.6 373.7 100.1 374.7 101.5 375.7 102.9 376.7 104.2 377.7 105.5 378.7 106.8 379.7 108.0 380.7 109.1 381.7 110.3 382.7 111.4 383.7 112.4 384.7 113.4 385.7 114.4 386.7 115.4 387.7 116.3 388.7 117.3 389.7 118.2 390.7 119.0 391.7 119.9 392.7 120.8 393.7 121.6 394.7 122.4 395.7 123.3 396.7 124.1 397.7 124.9 398.7 125.7 399.7 126.5 400.7 127.2 401.7 128.0 402.7 128.7 403.7 129.5 404.7 130.2 405.7 130.9 406.7 131.6 407.7 132.3 408.7 133.0 409.7 133.7 410.7 134.3 411.7 135.0 412.7 135.6 413.7 136.2 414.7 136.8 415.7 137.4 416.7 138.0 417.7 138.5 418.7 139.1 419.7 139.6 420.7 140.1 421.7 140.6 422.7 141.1 423.7 141.5 424.7 142.0 425.7 142.4 426.7 142.8 427.7 143.2 428.7 143.6 429.7 144.0 430.7 144.4 431.7 144.7 432.7 145.0 433.7 145.3 434.7 145.6 435.7 145.8 436.7 146.1 437.7 146.3 438.7 146.5 439.7 146.7 440.7 146.9 441.7 147.0 442.7 147.1 443.7 147.3 444.7 147.3 445.7 147.4 446.7 147.5 447.5 147.5" stroke="#C79810"/>
</g>
<path d="M404.80 4.80 V81.20 H447.00" fill="none" stroke="#d4d4d4" stroke-width="0.8"/>
<line x1="406.00" y1="12.60" x2="429.20" y2="12.60" stroke="#4F4F4F" stroke-width="2"/>
<text x="430.90" y="15.60" font-size="9.60" text-anchor="start" font-weight="bold" >1:1</text>
<line x1="406.00" y1="25.15" x2="429.20" y2="25.15" stroke="#EC4249" stroke-width="2"/>
<text x="430.90" y="28.15" font-size="9.60" text-anchor="start" font-weight="bold" >1:2</text>
<line x1="406.00" y1="37.70" x2="429.20" y2="37.70" stroke="#1C6FDC" stroke-width="2"/>
<text x="430.90" y="40.70" font-size="9.60" text-anchor="start" font-weight="bold" >1:3</text>
<line x1="406.00" y1="50.25" x2="429.20" y2="50.25" stroke="#37AA6A" stroke-width="2"/>
<text x="430.90" y="53.25" font-size="9.60" text-anchor="start" font-weight="bold" >1:4</text>
<line x1="406.00" y1="62.80" x2="429.20" y2="62.80" stroke="#B078DD" stroke-width="2"/>
<text x="430.90" y="65.80" font-size="9.60" text-anchor="start" font-weight="bold" >1:5</text>
<line x1="406.00" y1="75.35" x2="429.20" y2="75.35" stroke="#C79810" stroke-width="2"/>
<text x="430.90" y="78.35" font-size="9.60" text-anchor="start" font-weight="bold" >1:6</text>
<rect x="261.50" y="4.80" width="185.50" height="149.50" fill="none" stroke="#2a2a2a" stroke-width="1.6"/>
<line x1="261.50" y1="154.30" x2="261.50" y2="157.30" stroke="#2a2a2a" stroke-width="1.2"/>
<text x="261.50" y="166.30" font-size="8.30" text-anchor="middle" font-weight="bold" >300</text>
<line x1="288.00" y1="154.30" x2="288.00" y2="157.30" stroke="#2a2a2a" stroke-width="1.2"/>
<text x="288.00" y="166.30" font-size="8.30" text-anchor="middle" font-weight="bold" >350</text>
<line x1="314.50" y1="154.30" x2="314.50" y2="157.30" stroke="#2a2a2a" stroke-width="1.2"/>
<text x="314.50" y="166.30" font-size="8.30" text-anchor="middle" font-weight="bold" >400</text>
<line x1="341.00" y1="154.30" x2="341.00" y2="157.30" stroke="#2a2a2a" stroke-width="1.2"/>
<text x="341.00" y="166.30" font-size="8.30" text-anchor="middle" font-weight="bold" >450</text>
<line x1="367.50" y1="154.30" x2="367.50" y2="157.30" stroke="#2a2a2a" stroke-width="1.2"/>
<text x="367.50" y="166.30" font-size="8.30" text-anchor="middle" font-weight="bold" >500</text>
<line x1="394.00" y1="154.30" x2="394.00" y2="157.30" stroke="#2a2a2a" stroke-width="1.2"/>
<text x="394.00" y="166.30" font-size="8.30" text-anchor="middle" font-weight="bold" >550</text>
<line x1="420.50" y1="154.30" x2="420.50" y2="157.30" stroke="#2a2a2a" stroke-width="1.2"/>
<text x="420.50" y="166.30" font-size="8.30" text-anchor="middle" font-weight="bold" >600</text>
<line x1="447.00" y1="154.30" x2="447.00" y2="157.30" stroke="#2a2a2a" stroke-width="1.2"/>
<text x="447.00" y="166.30" font-size="8.30" text-anchor="middle" font-weight="bold" >650</text>
<line x1="258.50" y1="154.30" x2="261.50" y2="154.30" stroke="#2a2a2a" stroke-width="1.2"/>
<text x="256.50" y="156.62" font-size="8.30" text-anchor="end" font-weight="bold" >0.0</text>
<line x1="258.50" y1="124.40" x2="261.50" y2="124.40" stroke="#2a2a2a" stroke-width="1.2"/>
<text x="256.50" y="126.72" font-size="8.30" text-anchor="end" font-weight="bold" >0.2</text>
<line x1="258.50" y1="94.50" x2="261.50" y2="94.50" stroke="#2a2a2a" stroke-width="1.2"/>
<text x="256.50" y="96.82" font-size="8.30" text-anchor="end" font-weight="bold" >0.4</text>
<line x1="258.50" y1="64.60" x2="261.50" y2="64.60" stroke="#2a2a2a" stroke-width="1.2"/>
<text x="256.50" y="66.92" font-size="8.30" text-anchor="end" font-weight="bold" >0.6</text>
<line x1="258.50" y1="34.70" x2="261.50" y2="34.70" stroke="#2a2a2a" stroke-width="1.2"/>
<text x="256.50" y="37.02" font-size="8.30" text-anchor="end" font-weight="bold" >0.8</text>
<line x1="258.50" y1="4.80" x2="261.50" y2="4.80" stroke="#2a2a2a" stroke-width="1.2"/>
<text x="256.50" y="7.12" font-size="8.30" text-anchor="end" font-weight="bold" >1.0</text>
<text x="354.20" y="183.10" font-size="13.35" text-anchor="middle" font-weight="bold" textLength="94.0" lengthAdjust="spacingAndGlyphs">Wavelength (nm)</text>
<text transform="translate(238.90 83.50) rotate(-90)" x="0" y="0" font-size="13.35" text-anchor="middle" font-weight="bold" textLength="95.5" lengthAdjust="spacingAndGlyphs">Absorbance (a.u.)</text>
<text x="229.80" y="15.90" font-size="18.20" text-anchor="start" font-weight="bold" >B</text>
<clipPath id="clipC"><rect x="492.20" y="4.50" width="185.40" height="149.50"/></clipPath>
<g clip-path="url(#clipC)" fill="none" stroke-width="1.90" stroke-linejoin="round" stroke-linecap="round">
<path d="M492.4 84.8 L493.4 87.6 494.4 90.1 495.4 92.5 496.4 94.7 497.4 96.6 498.4 98.5 499.4 100.1 500.4 101.6 501.4 102.9 502.4 104.1 503.4 105.2 504.4 106.1 505.4 106.9 506.4 107.6 507.4 108.2 508.4 108.7 509.4 109.1 510.4 109.4 511.4 109.6 512.4 109.7 513.4 109.8 514.4 109.9 515.4 109.8 516.4 109.8 517.4 109.7 518.4 109.5 519.4 109.4 520.4 109.2 521.4 109.0 522.4 108.8 523.4 108.5 524.4 108.3 525.4 108.0 526.4 107.8 527.4 107.5 528.4 107.2 529.4 106.9 530.4 106.5 531.4 106.2 532.4 105.8 533.4 105.5 534.4 105.1 535.4 104.8 536.4 104.4 537.4 104.0 538.4 103.6 539.4 103.2 540.4 102.8 541.4 102.4 542.4 102.0 543.4 101.6 544.4 101.2 545.4 100.8 546.4 100.3 547.4 99.9 548.4 99.5 549.4 99.1 550.4 98.7 551.4 98.3 552.4 97.9 553.4 97.5 554.4 97.1 555.4 96.7 556.4 96.4 557.4 96.0 558.4 95.6 559.4 95.3 560.4 94.9 561.4 94.6 562.4 94.3 563.4 94.0 564.4 93.7 565.4 93.4 566.4 93.2 567.4 92.9 568.4 92.7 569.4 92.5 570.4 92.3 571.4 92.1 572.4 91.9 573.4 91.7 574.4 91.6 575.4 91.5 576.4 91.4 577.4 91.3 578.4 91.3 579.4 91.2 580.4 91.2 581.4 91.2 582.4 91.2 583.4 91.2 584.4 91.3 585.4 91.4 586.4 91.5 587.4 91.6 588.4 91.7 589.4 91.9 590.4 92.0 591.4 92.2 592.4 92.5 593.4 92.7 594.4 93.0 595.4 93.2 596.4 93.5 597.4 93.9 598.4 94.2 599.4 94.6 600.4 95.0 601.4 95.4 602.4 95.9 603.4 96.3 604.4 96.8 605.4 97.3 606.4 97.8 607.4 98.4 608.4 99.0 609.4 99.5 610.4 100.1 611.4 100.8 612.4 101.4 613.4 102.1 614.4 102.7 615.4 103.4 616.4 104.1 617.4 104.9 618.4 105.6 619.4 106.4 620.4 107.2 621.4 107.9 622.4 108.7 623.4 109.6 624.4 110.4 625.4 111.2 626.4 112.1 627.4 113.0 628.4 113.9 629.4 114.8 630.4 115.7 631.4 116.6 632.4 117.5 633.4 118.4 634.4 119.4 635.4 120.3 636.4 121.3 637.4 122.2 638.4 123.2 639.4 124.2 640.4 125.2 641.4 126.2 642.4 127.1 643.4 128.1 644.4 129.1 645.4 130.1 646.4 131.1 647.4 132.0 648.4 133.0 649.4 134.0 650.4 134.9 651.4 135.8 652.4 136.8 653.4 137.7 654.4 138.5 655.4 139.4 656.4 140.3 657.4 141.1 658.4 141.9 659.4 142.7 660.4 143.4 661.4 144.2 662.4 144.9 663.4 145.6 664.4 146.2 665.4 146.8 666.4 147.4 667.4 148.0 668.4 148.5 669.4 149.0 670.4 149.4 671.4 149.8 672.4 150.2 673.4 150.5 674.4 150.8 675.4 151.0 676.4 151.2 677.4 151.4 677.8 151.4" stroke="#4F4F4F"/>
<path d="M492.4 79.2 L493.4 82.0 494.4 84.6 495.4 87.2 496.4 89.8 497.4 92.2 498.4 94.5 499.4 96.7 500.4 98.8 501.4 100.7 502.4 102.6 503.4 104.2 504.4 105.8 505.4 107.2 506.4 108.4 507.4 109.4 508.4 110.3 509.4 111.0 510.4 111.5 511.4 111.8 512.4 111.9 513.4 111.8 514.4 111.5 515.4 111.1 516.4 110.6 517.4 109.9 518.4 109.1 519.4 108.3 520.4 107.4 521.4 106.4 522.4 105.4 523.4 104.4 524.4 103.3 525.4 102.2 526.4 101.1 527.4 99.9 528.4 98.8 529.4 97.7 530.4 96.6 531.4 95.5 532.4 94.4 533.4 93.3 534.4 92.2 535.4 91.2 536.4 90.2 537.4 89.1 538.4 88.2 539.4 87.2 540.4 86.3 541.4 85.4 542.4 84.5 543.4 83.6 544.4 82.8 545.4 82.0 546.4 81.3 547.4 80.6 548.4 79.9 549.4 79.3 550.4 78.7 551.4 78.2 552.4 77.7 553.4 77.2 554.4 76.8 555.4 76.5 556.4 76.2 557.4 75.9 558.4 75.7 559.4 75.6 560.4 75.5 561.4 75.5 562.4 75.6 563.4 75.7 564.4 75.8 565.4 76.0 566.4 76.3 567.4 76.6 568.4 77.0 569.4 77.4 570.4 77.8 571.4 78.3 572.4 78.8 573.4 79.3 574.4 79.9 575.4 80.6 576.4 81.2 577.4 81.9 578.4 82.6 579.4 83.4 580.4 84.1 581.4 84.9 582.4 85.8 583.4 86.6 584.4 87.5 585.4 88.3 586.4 89.2 587.4 90.1 588.4 91.0 589.4 91.9 590.4 92.9 591.4 93.8 592.4 94.8 593.4 95.7 594.4 96.6 595.4 97.6 596.4 98.5 597.4 99.5 598.4 100.4 599.4 101.3 600.4 102.3 601.4 103.2 602.4 104.1 603.4 105.0 604.4 105.9 605.4 106.7 606.4 107.6 607.4 108.5 608.4 109.3 609.4 110.2 610.4 111.0 611.4 111.9 612.4 112.7 613.4 113.5 614.4 114.3 615.4 115.1 616.4 115.9 617.4 116.7 618.4 117.5 619.4 118.3 620.4 119.0 621.4 119.8 622.4 120.5 623.4 121.3 624.4 122.0 625.4 122.7 626.4 123.4 627.4 124.1 628.4 124.8 629.4 125.5 630.4 126.2 631.4 126.8 632.4 127.5 633.4 128.2 634.4 128.8 635.4 129.4 636.4 130.0 637.4 130.7 638.4 131.3 639.4 131.9 640.4 132.4 641.4 133.0 642.4 133.6 643.4 134.1 644.4 134.7 645.4 135.2 646.4 135.7 647.4 136.3 648.4 136.8 649.4 137.3 650.4 137.7 651.4 138.2 652.4 138.7 653.4 139.1 654.4 139.6 655.4 140.0 656.4 140.5 657.4 140.9 658.4 141.3 659.4 141.7 660.4 142.1 661.4 142.4 662.4 142.8 663.4 143.1 664.4 143.5 665.4 143.8 666.4 144.1 667.4 144.4 668.4 144.7 669.4 145.0 670.4 145.3 671.4 145.6 672.4 145.8 673.4 146.1 674.4 146.3 675.4 146.5 676.4 146.7 677.4 146.9 677.8 147.0" stroke="#EC4249"/>
<path d="M492.4 79.0 L493.4 81.5 494.4 83.9 495.4 86.4 496.4 88.9 497.4 91.3 498.4 93.7 499.4 95.9 500.4 98.1 501.4 100.2 502.4 102.1 503.4 103.9 504.4 105.5 505.4 107.0 506.4 108.3 507.4 109.4 508.4 110.3 509.4 111.0 510.4 111.5 511.4 111.7 512.4 111.7 513.4 111.5 514.4 111.1 515.4 110.5 516.4 109.8 517.4 109.0 518.4 108.1 519.4 107.2 520.4 106.2 521.4 105.2 522.4 104.2 523.4 103.2 524.4 102.1 525.4 100.9 526.4 99.7 527.4 98.4 528.4 97.1 529.4 95.8 530.4 94.4 531.4 93.0 532.4 91.6 533.4 90.1 534.4 88.6 535.4 87.1 536.4 85.7 537.4 84.2 538.4 82.7 539.4 81.2 540.4 79.8 541.4 78.3 542.4 76.9 543.4 75.5 544.4 74.2 545.4 72.8 546.4 71.6 547.4 70.4 548.4 69.2 549.4 68.1 550.4 67.1 551.4 66.1 552.4 65.2 553.4 64.4 554.4 63.7 555.4 63.0 556.4 62.5 557.4 62.0 558.4 61.6 559.4 61.4 560.4 61.2 561.4 61.1 562.4 61.1 563.4 61.1 564.4 61.3 565.4 61.5 566.4 61.8 567.4 62.2 568.4 62.7 569.4 63.2 570.4 63.9 571.4 64.6 572.4 65.3 573.4 66.2 574.4 67.1 575.4 68.1 576.4 69.1 577.4 70.2 578.4 71.3 579.4 72.5 580.4 73.7 581.4 75.0 582.4 76.2 583.4 77.5 584.4 78.9 585.4 80.2 586.4 81.6 587.4 83.0 588.4 84.4 589.4 85.8 590.4 87.2 591.4 88.6 592.4 89.9 593.4 91.3 594.4 92.7 595.4 94.0 596.4 95.3 597.4 96.6 598.4 97.9 599.4 99.2 600.4 100.4 601.4 101.6 602.4 102.9 603.4 104.1 604.4 105.2 605.4 106.4 606.4 107.5 607.4 108.7 608.4 109.8 609.4 110.9 610.4 112.0 611.4 113.0 612.4 114.1 613.4 115.1 614.4 116.1 615.4 117.1 616.4 118.0 617.4 119.0 618.4 119.9 619.4 120.8 620.4 121.7 621.4 122.6 622.4 123.5 623.4 124.3 624.4 125.2 625.4 126.0 626.4 126.7 627.4 127.5 628.4 128.3 629.4 129.0 630.4 129.7 631.4 130.4 632.4 131.1 633.4 131.7 634.4 132.4 635.4 133.0 636.4 133.6 637.4 134.2 638.4 134.7 639.4 135.3 640.4 135.8 641.4 136.3 642.4 136.8 643.4 137.3 644.4 137.8 645.4 138.2 646.4 138.6 647.4 139.1 648.4 139.5 649.4 139.9 650.4 140.3 651.4 140.6 652.4 141.0 653.4 141.4 654.4 141.7 655.4 142.0 656.4 142.4 657.4 142.7 658.4 143.0 659.4 143.3 660.4 143.6 661.4 143.9 662.4 144.1 663.4 144.4 664.4 144.7 665.4 144.9 666.4 145.2 667.4 145.4 668.4 145.7 669.4 145.9 670.4 146.2 671.4 146.4 672.4 146.7 673.4 146.9 674.4 147.1 675.4 147.4 676.4 147.6 677.4 147.8 677.8 147.9" stroke="#1C6FDC"/>
<path d="M492.4 85.3 L493.4 87.4 494.4 89.6 495.4 91.7 496.4 93.8 497.4 96.0 498.4 98.0 499.4 100.0 500.4 101.9 501.4 103.8 502.4 105.5 503.4 107.1 504.4 108.5 505.4 109.8 506.4 110.9 507.4 111.8 508.4 112.5 509.4 112.9 510.4 113.2 511.4 113.2 512.4 113.1 513.4 112.8 514.4 112.3 515.4 111.6 516.4 110.7 517.4 109.7 518.4 108.6 519.4 107.3 520.4 105.9 521.4 104.4 522.4 102.8 523.4 101.2 524.4 99.5 525.4 97.7 526.4 95.9 527.4 94.2 528.4 92.4 529.4 90.6 530.4 88.8 531.4 87.1 532.4 85.3 533.4 83.6 534.4 81.8 535.4 80.1 536.4 78.3 537.4 76.6 538.4 74.8 539.4 73.1 540.4 71.3 541.4 69.6 542.4 67.8 543.4 66.1 544.4 64.4 545.4 62.7 546.4 61.1 547.4 59.6 548.4 58.0 549.4 56.6 550.4 55.2 551.4 54.0 552.4 52.8 553.4 51.7 554.4 50.7 555.4 49.8 556.4 49.0 557.4 48.3 558.4 47.7 559.4 47.1 560.4 46.7 561.4 46.3 562.4 46.0 563.4 45.9 564.4 45.7 565.4 45.7 566.4 45.8 567.4 45.9 568.4 46.2 569.4 46.5 570.4 46.9 571.4 47.5 572.4 48.1 573.4 48.8 574.4 49.7 575.4 50.7 576.4 51.7 577.4 52.9 578.4 54.2 579.4 55.6 580.4 57.0 581.4 58.6 582.4 60.2 583.4 61.9 584.4 63.6 585.4 65.4 586.4 67.3 587.4 69.1 588.4 71.1 589.4 73.0 590.4 74.9 591.4 76.9 592.4 78.9 593.4 80.8 594.4 82.8 595.4 84.7 596.4 86.6 597.4 88.5 598.4 90.3 599.4 92.2 600.4 93.9 601.4 95.7 602.4 97.4 603.4 99.1 604.4 100.7 605.4 102.3 606.4 103.9 607.4 105.4 608.4 106.8 609.4 108.2 610.4 109.5 611.4 110.8 612.4 112.1 613.4 113.3 614.4 114.4 615.4 115.5 616.4 116.6 617.4 117.7 618.4 118.7 619.4 119.6 620.4 120.6 621.4 121.5 622.4 122.4 623.4 123.2 624.4 124.1 625.4 124.9 626.4 125.7 627.4 126.5 628.4 127.2 629.4 128.0 630.4 128.7 631.4 129.4 632.4 130.1 633.4 130.8 634.4 131.5 635.4 132.2 636.4 132.9 637.4 133.5 638.4 134.2 639.4 134.8 640.4 135.4 641.4 136.0 642.4 136.6 643.4 137.2 644.4 137.8 645.4 138.3 646.4 138.8 647.4 139.4 648.4 139.9 649.4 140.4 650.4 140.9 651.4 141.3 652.4 141.8 653.4 142.2 654.4 142.7 655.4 143.1 656.4 143.5 657.4 143.9 658.4 144.2 659.4 144.6 660.4 144.9 661.4 145.2 662.4 145.6 663.4 145.8 664.4 146.1 665.4 146.4 666.4 146.6 667.4 146.9 668.4 147.1 669.4 147.3 670.4 147.4 671.4 147.6 672.4 147.8 673.4 147.9 674.4 148.0 675.4 148.1 676.4 148.2 677.4 148.2 677.8 148.2" stroke="#37AA6A"/>
<path d="M492.4 71.1 L493.4 75.0 494.4 78.7 495.4 82.2 496.4 85.6 497.4 88.8 498.4 91.7 499.4 94.5 500.4 97.0 501.4 99.3 502.4 101.3 503.4 103.2 504.4 104.8 505.4 106.1 506.4 107.1 507.4 108.0 508.4 108.6 509.4 108.9 510.4 109.1 511.4 109.1 512.4 108.9 513.4 108.5 514.4 107.9 515.4 107.2 516.4 106.4 517.4 105.4 518.4 104.3 519.4 103.1 520.4 101.8 521.4 100.5 522.4 99.0 523.4 97.5 524.4 95.8 525.4 94.1 526.4 92.4 527.4 90.6 528.4 88.7 529.4 86.8 530.4 84.8 531.4 82.8 532.4 80.7 533.4 78.6 534.4 76.5 535.4 74.3 536.4 72.1 537.4 70.0 538.4 67.7 539.4 65.5 540.4 63.3 541.4 61.1 542.4 58.9 543.4 56.7 544.4 54.6 545.4 52.4 546.4 50.3 547.4 48.2 548.4 46.1 549.4 44.1 550.4 42.1 551.4 40.2 552.4 38.3 553.4 36.5 554.4 34.8 555.4 33.1 556.4 31.5 557.4 30.0 558.4 28.5 559.4 27.2 560.4 26.0 561.4 24.9 562.4 23.9 563.4 23.2 564.4 22.6 565.4 22.1 566.4 21.9 567.4 21.9 568.4 22.2 569.4 22.7 570.4 23.4 571.4 24.4 572.4 25.7 573.4 27.4 574.4 29.2 575.4 31.3 576.4 33.7 577.4 36.2 578.4 38.9 579.4 41.6 580.4 44.5 581.4 47.4 582.4 50.4 583.4 53.4 584.4 56.4 585.4 59.4 586.4 62.3 587.4 65.2 588.4 68.1 589.4 70.9 590.4 73.6 591.4 76.2 592.4 78.7 593.4 81.0 594.4 83.2 595.4 85.3 596.4 87.2 597.4 89.0 598.4 90.7 599.4 92.4 600.4 93.9 601.4 95.5 602.4 96.9 603.4 98.4 604.4 99.8 605.4 101.2 606.4 102.6 607.4 104.0 608.4 105.3 609.4 106.6 610.4 107.9 611.4 109.2 612.4 110.4 613.4 111.7 614.4 112.8 615.4 114.0 616.4 115.2 617.4 116.3 618.4 117.4 619.4 118.5 620.4 119.5 621.4 120.5 622.4 121.5 623.4 122.5 624.4 123.5 625.4 124.4 626.4 125.3 627.4 126.2 628.4 127.0 629.4 127.9 630.4 128.7 631.4 129.5 632.4 130.3 633.4 131.0 634.4 131.8 635.4 132.5 636.4 133.2 637.4 133.8 638.4 134.5 639.4 135.1 640.4 135.7 641.4 136.3 642.4 136.9 643.4 137.5 644.4 138.0 645.4 138.6 646.4 139.1 647.4 139.6 648.4 140.1 649.4 140.6 650.4 141.0 651.4 141.4 652.4 141.9 653.4 142.3 654.4 142.7 655.4 143.1 656.4 143.4 657.4 143.8 658.4 144.2 659.4 144.5 660.4 144.8 661.4 145.1 662.4 145.4 663.4 145.7 664.4 146.0 665.4 146.3 666.4 146.5 667.4 146.8 668.4 147.0 669.4 147.3 670.4 147.5 671.4 147.7 672.4 147.9 673.4 148.1 674.4 148.3 675.4 148.5 676.4 148.7 677.4 148.9 677.8 149.0" stroke="#B078DD"/>
<path d="M492.4 79.0 L493.4 81.4 494.4 83.9 495.4 86.3 496.4 88.8 497.4 91.2 498.4 93.6 499.4 96.0 500.4 98.2 501.4 100.3 502.4 102.3 503.4 104.2 504.4 105.9 505.4 107.4 506.4 108.7 507.4 109.8 508.4 110.7 509.4 111.2 510.4 111.6 511.4 111.6 512.4 111.5 513.4 111.2 514.4 110.6 515.4 109.9 516.4 109.1 517.4 108.1 518.4 107.0 519.4 105.7 520.4 104.4 521.4 103.0 522.4 101.5 523.4 100.0 524.4 98.5 525.4 96.9 526.4 95.3 527.4 93.7 528.4 92.0 529.4 90.3 530.4 88.5 531.4 86.7 532.4 84.8 533.4 82.9 534.4 81.0 535.4 79.0 536.4 77.0 537.4 74.9 538.4 72.8 539.4 70.7 540.4 68.5 541.4 66.4 542.4 64.2 543.4 62.1 544.4 60.0 545.4 57.9 546.4 55.8 547.4 53.7 548.4 51.7 549.4 49.8 550.4 47.9 551.4 46.0 552.4 44.2 553.4 42.4 554.4 40.8 555.4 39.1 556.4 37.6 557.4 36.2 558.4 34.9 559.4 33.8 560.4 32.9 561.4 32.1 562.4 31.4 563.4 31.0 564.4 30.7 565.4 30.6 566.4 30.7 567.4 30.9 568.4 31.4 569.4 32.0 570.4 32.8 571.4 33.8 572.4 35.0 573.4 36.4 574.4 37.9 575.4 39.6 576.4 41.5 577.4 43.5 578.4 45.7 579.4 47.9 580.4 50.3 581.4 52.7 582.4 55.2 583.4 57.8 584.4 60.5 585.4 63.1 586.4 65.8 587.4 68.5 588.4 71.2 589.4 73.8 590.4 76.5 591.4 79.0 592.4 81.6 593.4 84.0 594.4 86.4 595.4 88.7 596.4 90.8 597.4 93.0 598.4 95.0 599.4 96.9 600.4 98.8 601.4 100.6 602.4 102.3 603.4 104.0 604.4 105.6 605.4 107.1 606.4 108.5 607.4 109.9 608.4 111.3 609.4 112.5 610.4 113.8 611.4 115.0 612.4 116.1 613.4 117.2 614.4 118.2 615.4 119.2 616.4 120.1 617.4 121.0 618.4 121.9 619.4 122.8 620.4 123.6 621.4 124.4 622.4 125.1 623.4 125.9 624.4 126.6 625.4 127.3 626.4 128.0 627.4 128.6 628.4 129.3 629.4 129.9 630.4 130.5 631.4 131.1 632.4 131.7 633.4 132.3 634.4 132.9 635.4 133.4 636.4 133.9 637.4 134.5 638.4 135.0 639.4 135.5 640.4 136.0 641.4 136.5 642.4 136.9 643.4 137.4 644.4 137.8 645.4 138.2 646.4 138.7 647.4 139.1 648.4 139.5 649.4 139.9 650.4 140.3 651.4 140.6 652.4 141.0 653.4 141.3 654.4 141.7 655.4 142.0 656.4 142.4 657.4 142.7 658.4 143.0 659.4 143.3 660.4 143.6 661.4 143.9 662.4 144.2 663.4 144.4 664.4 144.7 665.4 145.0 666.4 145.2 667.4 145.5 668.4 145.7 669.4 145.9 670.4 146.2 671.4 146.4 672.4 146.6 673.4 146.8 674.4 147.0 675.4 147.3 676.4 147.5 677.4 147.7 677.8 147.7" stroke="#C79810"/>
</g>
<path d="M627.20 4.50 V81.20 H677.60" fill="none" stroke="#d4d4d4" stroke-width="0.8"/>
<line x1="628.20" y1="11.70" x2="651.00" y2="11.70" stroke="#4F4F4F" stroke-width="2"/>
<text x="653.80" y="15.30" font-size="7.20" text-anchor="start" font-weight="bold" >15 Min</text>
<line x1="628.20" y1="24.45" x2="651.00" y2="24.45" stroke="#EC4249" stroke-width="2"/>
<text x="653.80" y="28.05" font-size="7.20" text-anchor="start" font-weight="bold" >30 Min</text>
<line x1="628.20" y1="37.20" x2="651.00" y2="37.20" stroke="#1C6FDC" stroke-width="2"/>
<text x="653.80" y="40.80" font-size="7.20" text-anchor="start" font-weight="bold" >01 Hr</text>
<line x1="628.20" y1="49.95" x2="651.00" y2="49.95" stroke="#37AA6A" stroke-width="2"/>
<text x="653.80" y="53.55" font-size="7.20" text-anchor="start" font-weight="bold" >02 Hr</text>
<line x1="628.20" y1="62.70" x2="651.00" y2="62.70" stroke="#B078DD" stroke-width="2"/>
<text x="653.80" y="66.30" font-size="7.20" text-anchor="start" font-weight="bold" >04 Hr</text>
<line x1="628.20" y1="75.45" x2="651.00" y2="75.45" stroke="#C79810" stroke-width="2"/>
<text x="653.80" y="79.05" font-size="7.20" text-anchor="start" font-weight="bold" >08 Hr</text>
<rect x="492.20" y="4.50" width="185.40" height="149.50" fill="none" stroke="#2a2a2a" stroke-width="1.6"/>
<line x1="492.20" y1="154.00" x2="492.20" y2="157.00" stroke="#2a2a2a" stroke-width="1.2"/>
<text x="492.20" y="166.00" font-size="8.30" text-anchor="middle" font-weight="bold" >300</text>
<line x1="518.69" y1="154.00" x2="518.69" y2="157.00" stroke="#2a2a2a" stroke-width="1.2"/>
<text x="518.69" y="166.00" font-size="8.30" text-anchor="middle" font-weight="bold" >350</text>
<line x1="545.17" y1="154.00" x2="545.17" y2="157.00" stroke="#2a2a2a" stroke-width="1.2"/>
<text x="545.17" y="166.00" font-size="8.30" text-anchor="middle" font-weight="bold" >400</text>
<line x1="571.66" y1="154.00" x2="571.66" y2="157.00" stroke="#2a2a2a" stroke-width="1.2"/>
<text x="571.66" y="166.00" font-size="8.30" text-anchor="middle" font-weight="bold" >450</text>
<line x1="598.14" y1="154.00" x2="598.14" y2="157.00" stroke="#2a2a2a" stroke-width="1.2"/>
<text x="598.14" y="166.00" font-size="8.30" text-anchor="middle" font-weight="bold" >500</text>
<line x1="624.63" y1="154.00" x2="624.63" y2="157.00" stroke="#2a2a2a" stroke-width="1.2"/>
<text x="624.63" y="166.00" font-size="8.30" text-anchor="middle" font-weight="bold" >550</text>
<line x1="651.11" y1="154.00" x2="651.11" y2="157.00" stroke="#2a2a2a" stroke-width="1.2"/>
<text x="651.11" y="166.00" font-size="8.30" text-anchor="middle" font-weight="bold" >600</text>
<line x1="677.60" y1="154.00" x2="677.60" y2="157.00" stroke="#2a2a2a" stroke-width="1.2"/>
<text x="677.60" y="166.00" font-size="8.30" text-anchor="middle" font-weight="bold" >650</text>
<line x1="489.20" y1="154.00" x2="492.20" y2="154.00" stroke="#2a2a2a" stroke-width="1.2"/>
<text x="487.20" y="156.32" font-size="8.30" text-anchor="end" font-weight="bold" >0.0</text>
<line x1="489.20" y1="124.10" x2="492.20" y2="124.10" stroke="#2a2a2a" stroke-width="1.2"/>
<text x="487.20" y="126.42" font-size="8.30" text-anchor="end" font-weight="bold" >0.2</text>
<line x1="489.20" y1="94.20" x2="492.20" y2="94.20" stroke="#2a2a2a" stroke-width="1.2"/>
<text x="487.20" y="96.52" font-size="8.30" text-anchor="end" font-weight="bold" >0.4</text>
<line x1="489.20" y1="64.30" x2="492.20" y2="64.30" stroke="#2a2a2a" stroke-width="1.2"/>
<text x="487.20" y="66.62" font-size="8.30" text-anchor="end" font-weight="bold" >0.6</text>
<line x1="489.20" y1="34.40" x2="492.20" y2="34.40" stroke="#2a2a2a" stroke-width="1.2"/>
<text x="487.20" y="36.72" font-size="8.30" text-anchor="end" font-weight="bold" >0.8</text>
<line x1="489.20" y1="4.50" x2="492.20" y2="4.50" stroke="#2a2a2a" stroke-width="1.2"/>
<text x="487.20" y="6.82" font-size="8.30" text-anchor="end" font-weight="bold" >1.0</text>
<text x="585.00" y="182.90" font-size="13.35" text-anchor="middle" font-weight="bold" textLength="94.0" lengthAdjust="spacingAndGlyphs">Wavelength (nm)</text>
<text transform="translate(468.20 83.40) rotate(-90)" x="0" y="0" font-size="13.35" text-anchor="middle" font-weight="bold" textLength="95.5" lengthAdjust="spacingAndGlyphs">Absorbance (a.u.)</text>
<text x="458.80" y="16.40" font-size="18.20" text-anchor="start" font-weight="bold" >C</text>
<clipPath id="clipD"><rect x="31.40" y="194.70" width="186.30" height="149.50"/></clipPath>
<g clip-path="url(#clipD)" fill="none" stroke-width="1.90" stroke-linejoin="round" stroke-linecap="round">
<path d="M31.8 273.7 L32.8 277.1 33.8 280.2 34.8 283.0 35.8 285.6 36.8 288.0 37.8 290.1 38.8 292.1 39.8 293.8 40.8 295.3 41.8 296.6 42.8 297.8 43.8 298.7 44.8 299.5 45.8 300.1 46.8 300.6 47.8 300.9 48.8 301.1 49.8 301.1 50.8 301.0 51.8 300.8 52.8 300.5 53.8 300.1 54.8 299.6 55.8 299.0 56.8 298.3 57.8 297.5 58.8 296.7 59.8 295.9 60.8 294.9 61.8 294.0 62.8 293.0 63.8 292.0 64.8 291.0 65.8 290.0 66.8 289.0 67.8 288.0 68.8 286.9 69.8 286.0 70.8 285.0 71.8 284.0 72.8 283.1 73.8 282.1 74.8 281.2 75.8 280.3 76.8 279.5 77.8 278.7 78.8 277.9 79.8 277.1 80.8 276.4 81.8 275.7 82.8 275.0 83.8 274.4 84.8 273.9 85.8 273.4 86.8 272.9 87.8 272.5 88.8 272.1 89.8 271.8 90.8 271.6 91.8 271.4 92.8 271.3 93.8 271.3 94.8 271.3 95.8 271.3 96.8 271.5 97.8 271.6 98.8 271.9 99.8 272.1 100.8 272.5 101.8 272.8 102.8 273.2 103.8 273.7 104.8 274.1 105.8 274.6 106.8 275.1 107.8 275.7 108.8 276.3 109.8 276.8 110.8 277.5 111.8 278.1 112.8 278.7 113.8 279.3 114.8 280.0 115.8 280.6 116.8 281.3 117.8 281.9 118.8 282.6 119.8 283.3 120.8 284.0 121.8 284.7 122.8 285.4 123.8 286.1 124.8 286.8 125.8 287.5 126.8 288.2 127.8 288.9 128.8 289.7 129.8 290.4 130.8 291.1 131.8 291.9 132.8 292.6 133.8 293.3 134.8 294.1 135.8 294.8 136.8 295.6 137.8 296.3 138.8 297.1 139.8 297.8 140.8 298.6 141.8 299.3 142.8 300.1 143.8 300.9 144.8 301.6 145.8 302.4 146.8 303.1 147.8 303.8 148.8 304.6 149.8 305.3 150.8 306.1 151.8 306.8 152.8 307.5 153.8 308.3 154.8 309.0 155.8 309.7 156.8 310.4 157.8 311.2 158.8 311.9 159.8 312.6 160.8 313.3 161.8 314.0 162.8 314.7 163.8 315.3 164.8 316.0 165.8 316.7 166.8 317.4 167.8 318.0 168.8 318.7 169.8 319.3 170.8 320.0 171.8 320.6 172.8 321.2 173.8 321.8 174.8 322.4 175.8 323.0 176.8 323.6 177.8 324.2 178.8 324.8 179.8 325.3 180.8 325.9 181.8 326.4 182.8 326.9 183.8 327.5 184.8 328.0 185.8 328.5 186.8 328.9 187.8 329.4 188.8 329.9 189.8 330.3 190.8 330.8 191.8 331.2 192.8 331.6 193.8 332.0 194.8 332.4 195.8 332.7 196.8 333.1 197.8 333.4 198.8 333.7 199.8 334.1 200.8 334.4 201.8 334.6 202.8 334.9 203.8 335.1 204.8 335.4 205.8 335.6 206.8 335.8 207.8 336.0 208.8 336.1 209.8 336.3 210.8 336.4 211.8 336.5 212.8 336.6 213.8 336.7 214.8 336.8 215.8 336.8 216.8 336.8 217.5 336.8" stroke="#4F4F4F"/>
<path d="M31.8 264.9 L32.8 268.9 33.8 272.7 34.8 276.2 35.8 279.6 36.8 282.7 37.8 285.5 38.8 288.2 39.8 290.6 40.8 292.8 41.8 294.7 42.8 296.5 43.8 298.0 44.8 299.3 45.8 300.3 46.8 301.2 47.8 301.8 48.8 302.2 49.8 302.3 50.8 302.3 51.8 302.0 52.8 301.5 53.8 300.9 54.8 300.0 55.8 299.0 56.8 297.9 57.8 296.6 58.8 295.2 59.8 293.7 60.8 292.1 61.8 290.5 62.8 288.7 63.8 287.0 64.8 285.2 65.8 283.3 66.8 281.5 67.8 279.7 68.8 277.9 69.8 276.1 70.8 274.4 71.8 272.7 72.8 271.0 73.8 269.4 74.8 267.8 75.8 266.2 76.8 264.7 77.8 263.1 78.8 261.7 79.8 260.2 80.8 258.8 81.8 257.4 82.8 256.0 83.8 254.6 84.8 253.3 85.8 252.0 86.8 250.7 87.8 249.5 88.8 248.2 89.8 247.0 90.8 245.9 91.8 244.8 92.8 243.8 93.8 242.8 94.8 242.0 95.8 241.2 96.8 240.6 97.8 240.0 98.8 239.6 99.8 239.3 100.8 239.1 101.8 239.1 102.8 239.2 103.8 239.4 104.8 239.8 105.8 240.3 106.8 240.9 107.8 241.6 108.8 242.4 109.8 243.4 110.8 244.4 111.8 245.5 112.8 246.7 113.8 248.0 114.8 249.3 115.8 250.7 116.8 252.1 117.8 253.5 118.8 255.0 119.8 256.5 120.8 257.9 121.8 259.4 122.8 260.8 123.8 262.3 124.8 263.7 125.8 265.2 126.8 266.6 127.8 268.0 128.8 269.5 129.8 270.9 130.8 272.4 131.8 273.8 132.8 275.3 133.8 276.8 134.8 278.3 135.8 279.8 136.8 281.3 137.8 282.9 138.8 284.4 139.8 286.0 140.8 287.6 141.8 289.2 142.8 290.9 143.8 292.6 144.8 294.3 145.8 296.0 146.8 297.7 147.8 299.3 148.8 301.0 149.8 302.5 150.8 304.0 151.8 305.5 152.8 306.8 153.8 308.1 154.8 309.3 155.8 310.4 156.8 311.4 157.8 312.4 158.8 313.3 159.8 314.2 160.8 315.0 161.8 315.8 162.8 316.5 163.8 317.3 164.8 317.9 165.8 318.6 166.8 319.2 167.8 319.8 168.8 320.4 169.8 320.9 170.8 321.5 171.8 322.0 172.8 322.5 173.8 322.9 174.8 323.4 175.8 323.9 176.8 324.3 177.8 324.8 178.8 325.2 179.8 325.7 180.8 326.2 181.8 326.6 182.8 327.1 183.8 327.5 184.8 328.0 185.8 328.5 186.8 328.9 187.8 329.4 188.8 329.8 189.8 330.3 190.8 330.7 191.8 331.2 192.8 331.6 193.8 332.0 194.8 332.4 195.8 332.8 196.8 333.2 197.8 333.6 198.8 334.0 199.8 334.3 200.8 334.7 201.8 335.0 202.8 335.3 203.8 335.6 204.8 335.9 205.8 336.1 206.8 336.4 207.8 336.6 208.8 336.8 209.8 337.0 210.8 337.1 211.8 337.3 212.8 337.4 213.8 337.5 214.8 337.5 215.8 337.5 216.8 337.5 217.5 337.5" stroke="#EC4249"/>
<path d="M31.8 263.5 L32.8 267.4 33.8 271.2 34.8 274.7 35.8 278.0 36.8 281.1 37.8 283.9 38.8 286.6 39.8 289.0 40.8 291.3 41.8 293.3 42.8 295.1 43.8 296.7 44.8 298.1 45.8 299.3 46.8 300.2 47.8 301.0 48.8 301.5 49.8 301.9 50.8 302.0 51.8 301.9 52.8 301.6 53.8 301.1 54.8 300.4 55.8 299.5 56.8 298.3 57.8 297.0 58.8 295.5 59.8 293.8 60.8 292.0 61.8 290.1 62.8 288.0 63.8 285.8 64.8 283.4 65.8 281.0 66.8 278.5 67.8 276.0 68.8 273.3 69.8 270.7 70.8 268.0 71.8 265.2 72.8 262.5 73.8 259.8 74.8 257.0 75.8 254.3 76.8 251.6 77.8 248.9 78.8 246.3 79.8 243.7 80.8 241.2 81.8 238.8 82.8 236.4 83.8 234.1 84.8 231.9 85.8 229.8 86.8 227.8 87.8 225.9 88.8 224.1 89.8 222.5 90.8 220.9 91.8 219.5 92.8 218.2 93.8 217.0 94.8 215.9 95.8 214.9 96.8 214.0 97.8 213.1 98.8 212.3 99.8 211.7 100.8 211.2 101.8 210.8 102.8 210.5 103.8 210.4 104.8 210.5 105.8 210.8 106.8 211.2 107.8 211.9 108.8 212.7 109.8 213.7 110.8 214.9 111.8 216.2 112.8 217.7 113.8 219.3 114.8 221.0 115.8 222.9 116.8 224.9 117.8 227.0 118.8 229.2 119.8 231.4 120.8 233.8 121.8 236.2 122.8 238.7 123.8 241.3 124.8 243.9 125.8 246.6 126.8 249.3 127.8 252.0 128.8 254.7 129.8 257.5 130.8 260.2 131.8 263.0 132.8 265.7 133.8 268.5 134.8 271.1 135.8 273.8 136.8 276.4 137.8 278.9 138.8 281.4 139.8 283.9 140.8 286.2 141.8 288.5 142.8 290.6 143.8 292.7 144.8 294.7 145.8 296.5 146.8 298.3 147.8 300.0 148.8 301.7 149.8 303.2 150.8 304.7 151.8 306.1 152.8 307.4 153.8 308.7 154.8 309.9 155.8 311.0 156.8 312.1 157.8 313.1 158.8 314.1 159.8 315.1 160.8 316.0 161.8 316.8 162.8 317.6 163.8 318.4 164.8 319.2 165.8 319.9 166.8 320.6 167.8 321.3 168.8 321.9 169.8 322.6 170.8 323.2 171.8 323.9 172.8 324.5 173.8 325.1 174.8 325.7 175.8 326.2 176.8 326.8 177.8 327.3 178.8 327.9 179.8 328.4 180.8 328.9 181.8 329.4 182.8 329.9 183.8 330.3 184.8 330.8 185.8 331.2 186.8 331.7 187.8 332.1 188.8 332.5 189.8 332.9 190.8 333.3 191.8 333.6 192.8 334.0 193.8 334.3 194.8 334.7 195.8 335.0 196.8 335.3 197.8 335.6 198.8 335.9 199.8 336.1 200.8 336.4 201.8 336.6 202.8 336.9 203.8 337.1 204.8 337.3 205.8 337.5 206.8 337.7 207.8 337.8 208.8 338.0 209.8 338.2 210.8 338.3 211.8 338.4 212.8 338.5 213.8 338.6 214.8 338.7 215.8 338.8 216.8 338.9 217.5 338.9" stroke="#1C6FDC"/>
<path d="M31.8 264.4 L32.8 268.2 33.8 271.9 34.8 275.3 35.8 278.6 36.8 281.6 37.8 284.5 38.8 287.2 39.8 289.7 40.8 291.9 41.8 294.0 42.8 295.9 43.8 297.5 44.8 298.9 45.8 300.1 46.8 301.1 47.8 301.8 48.8 302.4 49.8 302.6 50.8 302.6 51.8 302.4 52.8 302.0 53.8 301.3 54.8 300.5 55.8 299.4 56.8 298.2 57.8 296.8 58.8 295.3 59.8 293.6 60.8 291.8 61.8 289.8 62.8 287.8 63.8 285.6 64.8 283.4 65.8 281.1 66.8 278.7 67.8 276.3 68.8 273.9 69.8 271.4 70.8 268.9 71.8 266.5 72.8 264.0 73.8 261.5 74.8 259.1 75.8 256.7 76.8 254.3 77.8 251.9 78.8 249.7 79.8 247.5 80.8 245.3 81.8 243.3 82.8 241.3 83.8 239.5 84.8 237.8 85.8 236.2 86.8 234.7 87.8 233.3 88.8 232.0 89.8 230.8 90.8 229.8 91.8 228.8 92.8 228.0 93.8 227.2 94.8 226.5 95.8 226.0 96.8 225.5 97.8 225.1 98.8 224.8 99.8 224.6 100.8 224.5 101.8 224.5 102.8 224.5 103.8 224.7 104.8 224.9 105.8 225.2 106.8 225.5 107.8 226.0 108.8 226.5 109.8 227.1 110.8 227.8 111.8 228.6 112.8 229.5 113.8 230.4 114.8 231.4 115.8 232.5 116.8 233.7 117.8 235.0 118.8 236.3 119.8 237.8 120.8 239.3 121.8 240.9 122.8 242.5 123.8 244.3 124.8 246.1 125.8 248.0 126.8 249.9 127.8 251.9 128.8 254.0 129.8 256.1 130.8 258.2 131.8 260.4 132.8 262.5 133.8 264.7 134.8 266.9 135.8 269.1 136.8 271.2 137.8 273.4 138.8 275.5 139.8 277.7 140.8 279.8 141.8 282.0 142.8 284.1 143.8 286.2 144.8 288.4 145.8 290.5 146.8 292.6 147.8 294.8 148.8 296.9 149.8 299.1 150.8 301.2 151.8 303.2 152.8 305.2 153.8 307.1 154.8 308.9 155.8 310.6 156.8 312.1 157.8 313.6 158.8 315.0 159.8 316.2 160.8 317.4 161.8 318.4 162.8 319.4 163.8 320.4 164.8 321.3 165.8 322.2 166.8 323.1 167.8 324.0 168.8 324.9 169.8 325.7 170.8 326.6 171.8 327.5 172.8 328.4 173.8 329.2 174.8 330.0 175.8 330.9 176.8 331.6 177.8 332.4 178.8 333.1 179.8 333.8 180.8 334.4 181.8 335.0 182.8 335.6 183.8 336.1 184.8 336.6 185.8 337.1 186.8 337.5 187.8 337.9 188.8 338.3 189.8 338.6 190.8 338.9 191.8 339.2 192.8 339.5 193.8 339.8 194.8 340.0 195.8 340.2 196.8 340.4 197.8 340.6 198.8 340.7 199.8 340.9 200.8 341.0 201.8 341.2 202.8 341.3 203.8 341.4 204.8 341.5 205.8 341.6 206.8 341.7 207.8 341.8 208.8 341.9 209.8 342.0 210.8 342.1 211.8 342.2 212.8 342.3 213.8 342.4 214.8 342.5 215.8 342.7 216.8 342.8 217.5 342.9" stroke="#37AA6A"/>
</g>
<path d="M166.00 194.70 V249.00 H217.70" fill="none" stroke="#d4d4d4" stroke-width="0.8"/>
<line x1="167.00" y1="203.30" x2="191.40" y2="203.30" stroke="#4F4F4F" stroke-width="2"/>
<text x="194.20" y="206.90" font-size="7.60" text-anchor="start" font-weight="bold" >pH 5</text>
<line x1="167.00" y1="216.30" x2="191.40" y2="216.30" stroke="#EC4249" stroke-width="2"/>
<text x="194.20" y="219.90" font-size="7.60" text-anchor="start" font-weight="bold" >pH 7</text>
<line x1="167.00" y1="229.30" x2="191.40" y2="229.30" stroke="#1C6FDC" stroke-width="2"/>
<text x="194.20" y="232.90" font-size="7.60" text-anchor="start" font-weight="bold" >pH 9</text>
<line x1="167.00" y1="242.30" x2="191.40" y2="242.30" stroke="#37AA6A" stroke-width="2"/>
<text x="194.20" y="245.90" font-size="7.60" text-anchor="start" font-weight="bold" >pH 10</text>
<rect x="31.40" y="194.70" width="186.30" height="149.50" fill="none" stroke="#2a2a2a" stroke-width="1.6"/>
<line x1="31.40" y1="344.20" x2="31.40" y2="347.20" stroke="#2a2a2a" stroke-width="1.2"/>
<text x="31.40" y="356.40" font-size="8.30" text-anchor="middle" font-weight="bold" >300</text>
<line x1="58.01" y1="344.20" x2="58.01" y2="347.20" stroke="#2a2a2a" stroke-width="1.2"/>
<text x="58.01" y="356.40" font-size="8.30" text-anchor="middle" font-weight="bold" >350</text>
<line x1="84.63" y1="344.20" x2="84.63" y2="347.20" stroke="#2a2a2a" stroke-width="1.2"/>
<text x="84.63" y="356.40" font-size="8.30" text-anchor="middle" font-weight="bold" >400</text>
<line x1="111.24" y1="344.20" x2="111.24" y2="347.20" stroke="#2a2a2a" stroke-width="1.2"/>
<text x="111.24" y="356.40" font-size="8.30" text-anchor="middle" font-weight="bold" >450</text>
<line x1="137.86" y1="344.20" x2="137.86" y2="347.20" stroke="#2a2a2a" stroke-width="1.2"/>
<text x="137.86" y="356.40" font-size="8.30" text-anchor="middle" font-weight="bold" >500</text>
<line x1="164.47" y1="344.20" x2="164.47" y2="347.20" stroke="#2a2a2a" stroke-width="1.2"/>
<text x="164.47" y="356.40" font-size="8.30" text-anchor="middle" font-weight="bold" >550</text>
<line x1="191.09" y1="344.20" x2="191.09" y2="347.20" stroke="#2a2a2a" stroke-width="1.2"/>
<text x="191.09" y="356.40" font-size="8.30" text-anchor="middle" font-weight="bold" >600</text>
<line x1="217.70" y1="344.20" x2="217.70" y2="347.20" stroke="#2a2a2a" stroke-width="1.2"/>
<text x="217.70" y="356.40" font-size="8.30" text-anchor="middle" font-weight="bold" >650</text>
<line x1="28.40" y1="344.20" x2="31.40" y2="344.20" stroke="#2a2a2a" stroke-width="1.2"/>
<text x="26.40" y="346.52" font-size="8.30" text-anchor="end" font-weight="bold" >0.0</text>
<line x1="28.40" y1="314.30" x2="31.40" y2="314.30" stroke="#2a2a2a" stroke-width="1.2"/>
<text x="26.40" y="316.62" font-size="8.30" text-anchor="end" font-weight="bold" >0.2</text>
<line x1="28.40" y1="284.40" x2="31.40" y2="284.40" stroke="#2a2a2a" stroke-width="1.2"/>
<text x="26.40" y="286.72" font-size="8.30" text-anchor="end" font-weight="bold" >0.4</text>
<line x1="28.40" y1="254.50" x2="31.40" y2="254.50" stroke="#2a2a2a" stroke-width="1.2"/>
<text x="26.40" y="256.82" font-size="8.30" text-anchor="end" font-weight="bold" >0.6</text>
<line x1="28.40" y1="224.60" x2="31.40" y2="224.60" stroke="#2a2a2a" stroke-width="1.2"/>
<text x="26.40" y="226.92" font-size="8.30" text-anchor="end" font-weight="bold" >0.8</text>
<line x1="28.40" y1="194.70" x2="31.40" y2="194.70" stroke="#2a2a2a" stroke-width="1.2"/>
<text x="26.40" y="197.02" font-size="8.30" text-anchor="end" font-weight="bold" >1.0</text>
<text x="124.60" y="373.90" font-size="13.35" text-anchor="middle" font-weight="bold" textLength="94.0" lengthAdjust="spacingAndGlyphs">Wavelength (nm)</text>
<text transform="translate(11.90 269.50) rotate(-90)" x="0" y="0" font-size="13.35" text-anchor="middle" font-weight="bold" textLength="95.5" lengthAdjust="spacingAndGlyphs">Absorbance (a.u.)</text>
<text x="4.10" y="209.40" font-size="18.20" text-anchor="start" font-weight="bold" >D</text>
<clipPath id="clipE"><rect x="257.70" y="194.90" width="190.60" height="149.30"/></clipPath>
<g clip-path="url(#clipE)" fill="none" stroke-width="1.90" stroke-linejoin="round" stroke-linecap="round">
<path d="M258.4 251.2 L259.4 256.9 260.4 261.9 261.4 266.2 262.4 270.0 263.4 273.3 264.4 276.1 265.4 278.6 266.4 280.7 267.4 282.5 268.4 284.1 269.4 285.6 270.4 287.0 271.4 288.2 272.4 289.3 273.4 290.2 274.4 291.0 275.4 291.6 276.4 292.0 277.4 292.2 278.4 292.3 279.4 292.1 280.4 291.8 281.4 291.2 282.4 290.5 283.4 289.5 284.4 288.3 285.4 287.0 286.4 285.5 287.4 283.9 288.4 282.3 289.4 280.6 290.4 278.9 291.4 277.1 292.4 275.2 293.4 273.4 294.4 271.4 295.4 269.5 296.4 267.4 297.4 265.3 298.4 263.2 299.4 261.0 300.4 258.8 301.4 256.6 302.4 254.2 303.4 251.9 304.4 249.6 305.4 247.3 306.4 245.0 307.4 242.8 308.4 240.6 309.4 238.5 310.4 236.5 311.4 234.6 312.4 232.8 313.4 231.1 314.4 229.4 315.4 227.8 316.4 226.3 317.4 224.9 318.4 223.5 319.4 222.2 320.4 221.0 321.4 219.9 322.4 218.9 323.4 217.9 324.4 217.1 325.4 216.4 326.4 215.8 327.4 215.2 328.4 214.8 329.4 214.5 330.4 214.4 331.4 214.4 332.4 214.5 333.4 214.7 334.4 215.2 335.4 215.7 336.4 216.5 337.4 217.3 338.4 218.3 339.4 219.4 340.4 220.7 341.4 222.0 342.4 223.3 343.4 224.7 344.4 226.2 345.4 227.7 346.4 229.2 347.4 230.8 348.4 232.3 349.4 233.9 350.4 235.4 351.4 236.9 352.4 238.4 353.4 239.9 354.4 241.4 355.4 242.9 356.4 244.5 357.4 246.1 358.4 247.7 359.4 249.4 360.4 251.2 361.4 252.9 362.4 254.7 363.4 256.5 364.4 258.3 365.4 260.2 366.4 262.0 367.4 263.8 368.4 265.7 369.4 267.5 370.4 269.3 371.4 271.1 372.4 272.8 373.4 274.6 374.4 276.3 375.4 278.0 376.4 279.7 377.4 281.4 378.4 283.1 379.4 284.7 380.4 286.3 381.4 288.0 382.4 289.6 383.4 291.1 384.4 292.7 385.4 294.2 386.4 295.8 387.4 297.3 388.4 298.8 389.4 300.2 390.4 301.7 391.4 303.1 392.4 304.6 393.4 306.0 394.4 307.4 395.4 308.7 396.4 310.1 397.4 311.4 398.4 312.7 399.4 313.9 400.4 315.1 401.4 316.3 402.4 317.5 403.4 318.5 404.4 319.6 405.4 320.6 406.4 321.5 407.4 322.4 408.4 323.3 409.4 324.1 410.4 324.9 411.4 325.7 412.4 326.4 413.4 327.1 414.4 327.8 415.4 328.5 416.4 329.1 417.4 329.8 418.4 330.4 419.4 331.0 420.4 331.7 421.4 332.3 422.4 332.9 423.4 333.4 424.4 334.0 425.4 334.6 426.4 335.1 427.4 335.6 428.4 336.1 429.4 336.6 430.4 337.0 431.4 337.5 432.4 337.9 433.4 338.3 434.4 338.7 435.4 339.0 436.4 339.4 437.4 339.7 438.4 339.9 439.4 340.2 440.4 340.4 441.4 340.6 442.4 340.8 443.4 340.9 444.4 341.0 445.4 341.1 446.4 341.1 447.4 341.2 448.4 341.1 448.5 341.1" stroke="#4F4F4F"/>
<path d="M258.4 251.3 L259.4 256.9 260.4 261.8 261.4 266.1 262.4 269.9 263.4 273.2 264.4 276.0 265.4 278.5 266.4 280.7 267.4 282.6 268.4 284.3 269.4 285.8 270.4 287.2 271.4 288.4 272.4 289.5 273.4 290.3 274.4 291.1 275.4 291.6 276.4 292.0 277.4 292.2 278.4 292.2 279.4 292.0 280.4 291.6 281.4 291.0 282.4 290.3 283.4 289.3 284.4 288.2 285.4 286.9 286.4 285.5 287.4 284.0 288.4 282.4 289.4 280.7 290.4 279.0 291.4 277.3 292.4 275.5 293.4 273.6 294.4 271.7 295.4 269.7 296.4 267.7 297.4 265.7 298.4 263.6 299.4 261.5 300.4 259.3 301.4 257.1 302.4 254.9 303.4 252.7 304.4 250.5 305.4 248.3 306.4 246.1 307.4 244.0 308.4 241.9 309.4 239.9 310.4 238.0 311.4 236.1 312.4 234.3 313.4 232.6 314.4 230.9 315.4 229.3 316.4 227.8 317.4 226.4 318.4 225.1 319.4 223.9 320.4 222.7 321.4 221.6 322.4 220.7 323.4 219.8 324.4 219.0 325.4 218.4 326.4 217.8 327.4 217.3 328.4 217.0 329.4 216.7 330.4 216.6 331.4 216.6 332.4 216.7 333.4 217.0 334.4 217.3 335.4 217.9 336.4 218.5 337.4 219.2 338.4 220.1 339.4 221.1 340.4 222.1 341.4 223.3 342.4 224.5 343.4 225.8 344.4 227.1 345.4 228.5 346.4 230.0 347.4 231.4 348.4 232.9 349.4 234.4 350.4 235.9 351.4 237.4 352.4 238.9 353.4 240.4 354.4 241.9 355.4 243.5 356.4 245.0 357.4 246.6 358.4 248.3 359.4 250.0 360.4 251.7 361.4 253.5 362.4 255.3 363.4 257.1 364.4 258.9 365.4 260.7 366.4 262.5 367.4 264.3 368.4 266.2 369.4 268.0 370.4 269.7 371.4 271.5 372.4 273.3 373.4 275.0 374.4 276.7 375.4 278.4 376.4 280.1 377.4 281.7 378.4 283.4 379.4 285.0 380.4 286.6 381.4 288.2 382.4 289.8 383.4 291.3 384.4 292.9 385.4 294.4 386.4 295.9 387.4 297.4 388.4 298.8 389.4 300.3 390.4 301.7 391.4 303.2 392.4 304.6 393.4 306.0 394.4 307.4 395.4 308.8 396.4 310.1 397.4 311.5 398.4 312.8 399.4 314.0 400.4 315.2 401.4 316.4 402.4 317.4 403.4 318.5 404.4 319.4 405.4 320.3 406.4 321.2 407.4 322.0 408.4 322.8 409.4 323.5 410.4 324.3 411.4 325.0 412.4 325.8 413.4 326.6 414.4 327.3 415.4 328.1 416.4 328.8 417.4 329.5 418.4 330.2 419.4 330.9 420.4 331.5 421.4 332.2 422.4 332.7 423.4 333.3 424.4 333.9 425.4 334.4 426.4 334.9 427.4 335.3 428.4 335.8 429.4 336.2 430.4 336.6 431.4 337.0 432.4 337.3 433.4 337.7 434.4 338.0 435.4 338.3 436.4 338.6 437.4 338.8 438.4 339.1 439.4 339.3 440.4 339.5 441.4 339.6 442.4 339.8 443.4 339.9 444.4 340.1 445.4 340.2 446.4 340.2 447.4 340.3 448.4 340.4 448.5 340.4" stroke="#EC4249"/>
<path d="M258.4 251.2 L259.4 256.9 260.4 261.9 261.4 266.3 262.4 270.1 263.4 273.3 264.4 276.2 265.4 278.6 266.4 280.7 267.4 282.5 268.4 284.1 269.4 285.6 270.4 286.9 271.4 288.1 272.4 289.2 273.4 290.2 274.4 290.9 275.4 291.5 276.4 292.0 277.4 292.3 278.4 292.4 279.4 292.2 280.4 291.9 281.4 291.4 282.4 290.6 283.4 289.6 284.4 288.3 285.4 286.9 286.4 285.3 287.4 283.6 288.4 281.9 289.4 280.3 290.4 278.6 291.4 276.9 292.4 275.3 293.4 273.6 294.4 271.9 295.4 270.1 296.4 268.3 297.4 266.5 298.4 264.6 299.4 262.7 300.4 260.8 301.4 258.7 302.4 256.6 303.4 254.5 304.4 252.4 305.4 250.2 306.4 248.1 307.4 245.9 308.4 243.8 309.4 241.8 310.4 239.8 311.4 237.9 312.4 236.1 313.4 234.3 314.4 232.6 315.4 231.0 316.4 229.5 317.4 228.0 318.4 226.7 319.4 225.5 320.4 224.3 321.4 223.3 322.4 222.4 323.4 221.6 324.4 220.9 325.4 220.3 326.4 219.9 327.4 219.5 328.4 219.3 329.4 219.2 330.4 219.2 331.4 219.3 332.4 219.5 333.4 219.8 334.4 220.2 335.4 220.7 336.4 221.3 337.4 221.9 338.4 222.7 339.4 223.5 340.4 224.4 341.4 225.4 342.4 226.4 343.4 227.5 344.4 228.7 345.4 229.9 346.4 231.2 347.4 232.5 348.4 233.9 349.4 235.2 350.4 236.6 351.4 238.1 352.4 239.5 353.4 240.9 354.4 242.4 355.4 243.9 356.4 245.5 357.4 247.1 358.4 248.7 359.4 250.4 360.4 252.1 361.4 253.9 362.4 255.7 363.4 257.5 364.4 259.3 365.4 261.1 366.4 262.9 367.4 264.8 368.4 266.6 369.4 268.4 370.4 270.2 371.4 271.9 372.4 273.7 373.4 275.4 374.4 277.1 375.4 278.8 376.4 280.4 377.4 282.1 378.4 283.7 379.4 285.3 380.4 286.9 381.4 288.5 382.4 290.1 383.4 291.6 384.4 293.1 385.4 294.6 386.4 296.1 387.4 297.6 388.4 299.0 389.4 300.5 390.4 301.9 391.4 303.3 392.4 304.7 393.4 306.0 394.4 307.4 395.4 308.7 396.4 310.0 397.4 311.3 398.4 312.5 399.4 313.7 400.4 314.9 401.4 316.0 402.4 317.1 403.4 318.2 404.4 319.2 405.4 320.2 406.4 321.1 407.4 322.0 408.4 322.9 409.4 323.7 410.4 324.5 411.4 325.2 412.4 326.0 413.4 326.7 414.4 327.4 415.4 328.0 416.4 328.7 417.4 329.3 418.4 329.9 419.4 330.6 420.4 331.1 421.4 331.7 422.4 332.3 423.4 332.8 424.4 333.4 425.4 333.9 426.4 334.4 427.4 334.8 428.4 335.3 429.4 335.7 430.4 336.1 431.4 336.5 432.4 336.9 433.4 337.2 434.4 337.6 435.4 337.9 436.4 338.1 437.4 338.4 438.4 338.6 439.4 338.8 440.4 339.0 441.4 339.1 442.4 339.2 443.4 339.3 444.4 339.4 445.4 339.4 446.4 339.4 447.4 339.4 448.4 339.3 448.5 339.3" stroke="#1C6FDC"/>
<path d="M258.4 251.2 L259.4 261.7 260.4 269.2 261.4 274.4 262.4 277.9 263.4 280.5 264.4 282.6 265.4 284.7 266.4 286.7 267.4 288.6 268.4 290.3 269.4 291.8 270.4 293.1 271.4 294.2 272.4 295.1 273.4 295.8 274.4 296.3 275.4 296.7 276.4 297.0 277.4 297.2 278.4 297.3 279.4 297.2 280.4 297.1 281.4 296.8 282.4 296.2 283.4 295.4 284.4 294.4 285.4 293.1 286.4 291.7 287.4 290.1 288.4 288.4 289.4 286.7 290.4 284.9 291.4 283.1 292.4 281.3 293.4 279.6 294.4 277.8 295.4 276.2 296.4 274.5 297.4 272.8 298.4 271.1 299.4 269.4 300.4 267.6 301.4 265.6 302.4 263.6 303.4 261.5 304.4 259.4 305.4 257.3 306.4 255.2 307.4 253.2 308.4 251.2 309.4 249.4 310.4 247.6 311.4 245.9 312.4 244.3 313.4 242.7 314.4 241.1 315.4 239.5 316.4 237.9 317.4 236.2 318.4 234.5 319.4 232.8 320.4 231.0 321.4 229.2 322.4 227.4 323.4 225.6 324.4 224.0 325.4 222.7 326.4 221.8 327.4 221.2 328.4 221.0 329.4 221.0 330.4 221.3 331.4 221.6 332.4 222.1 333.4 222.6 334.4 223.1 335.4 223.5 336.4 223.9 337.4 224.3 338.4 224.7 339.4 225.2 340.4 225.7 341.4 226.4 342.4 227.2 343.4 228.2 344.4 229.4 345.4 230.7 346.4 232.3 347.4 234.0 348.4 235.8 349.4 237.6 350.4 239.4 351.4 241.1 352.4 242.8 353.4 244.5 354.4 246.2 355.4 247.9 356.4 249.8 357.4 251.8 358.4 253.9 359.4 256.1 360.4 258.3 361.4 260.5 362.4 262.8 363.4 265.0 364.4 267.3 365.4 269.5 366.4 271.6 367.4 273.7 368.4 275.7 369.4 277.7 370.4 279.5 371.4 281.3 372.4 282.9 373.4 284.5 374.4 285.9 375.4 287.2 376.4 288.4 377.4 289.6 378.4 290.7 379.4 291.7 380.4 292.7 381.4 293.7 382.4 294.7 383.4 295.7 384.4 296.6 385.4 297.6 386.4 298.7 387.4 299.7 388.4 300.8 389.4 301.9 390.4 303.0 391.4 304.2 392.4 305.3 393.4 306.4 394.4 307.6 395.4 308.7 396.4 309.8 397.4 310.9 398.4 312.0 399.4 313.1 400.4 314.1 401.4 315.2 402.4 316.2 403.4 317.2 404.4 318.2 405.4 319.2 406.4 320.2 407.4 321.1 408.4 322.0 409.4 322.9 410.4 323.8 411.4 324.7 412.4 325.5 413.4 326.3 414.4 327.1 415.4 327.9 416.4 328.6 417.4 329.3 418.4 329.9 419.4 330.5 420.4 331.1 421.4 331.6 422.4 332.1 423.4 332.6 424.4 333.0 425.4 333.4 426.4 333.8 427.4 334.1 428.4 334.4 429.4 334.6 430.4 334.9 431.4 335.1 432.4 335.2 433.4 335.4 434.4 335.5 435.4 335.7 436.4 335.8 437.4 335.8 438.4 335.9 439.4 336.0 440.4 336.0 441.4 336.1 442.4 336.1 443.4 336.2 444.4 336.2 445.4 336.2 446.4 336.3 447.4 336.3 448.4 336.3 448.5 336.3" stroke="#37AA6A"/>
</g>
<path d="M369.10 194.90 V257.00 H448.30" fill="none" stroke="#d4d4d4" stroke-width="0.8"/>
<line x1="370.60" y1="205.90" x2="394.30" y2="205.90" stroke="#37AA6A" stroke-width="2"/>
<text x="396.60" y="209.40" font-size="9.20" text-anchor="start" font-weight="bold" >100<tspan dy="-4.0" font-size="8.6">o</tspan><tspan dy="4.0">C</tspan></text>
<line x1="370.60" y1="221.70" x2="394.30" y2="221.70" stroke="#4F4F4F" stroke-width="2"/>
<text x="396.60" y="225.20" font-size="9.20" text-anchor="start" font-weight="bold" >70<tspan dy="-4.0" font-size="8.6">o</tspan><tspan dy="4.0">C</tspan></text>
<line x1="370.60" y1="237.50" x2="394.30" y2="237.50" stroke="#EC4249" stroke-width="2"/>
<text x="396.60" y="241.00" font-size="9.20" text-anchor="start" font-weight="bold" >50<tspan dy="-4.0" font-size="8.6">o</tspan><tspan dy="4.0">C</tspan></text>
<line x1="370.60" y1="250.50" x2="394.30" y2="250.50" stroke="#1C6FDC" stroke-width="2"/>
<text x="396.60" y="254.00" font-size="9.20" text-anchor="start" font-weight="bold" >Room Temp</text>
<rect x="257.70" y="194.90" width="190.60" height="149.30" fill="none" stroke="#2a2a2a" stroke-width="1.6"/>
<line x1="257.70" y1="344.20" x2="257.70" y2="347.20" stroke="#2a2a2a" stroke-width="1.2"/>
<text x="257.70" y="356.40" font-size="8.30" text-anchor="middle" font-weight="bold" >300</text>
<line x1="284.93" y1="344.20" x2="284.93" y2="347.20" stroke="#2a2a2a" stroke-width="1.2"/>
<text x="284.93" y="356.40" font-size="8.30" text-anchor="middle" font-weight="bold" >350</text>
<line x1="312.16" y1="344.20" x2="312.16" y2="347.20" stroke="#2a2a2a" stroke-width="1.2"/>
<text x="312.16" y="356.40" font-size="8.30" text-anchor="middle" font-weight="bold" >400</text>
<line x1="339.39" y1="344.20" x2="339.39" y2="347.20" stroke="#2a2a2a" stroke-width="1.2"/>
<text x="339.39" y="356.40" font-size="8.30" text-anchor="middle" font-weight="bold" >450</text>
<line x1="366.61" y1="344.20" x2="366.61" y2="347.20" stroke="#2a2a2a" stroke-width="1.2"/>
<text x="366.61" y="356.40" font-size="8.30" text-anchor="middle" font-weight="bold" >500</text>
<line x1="393.84" y1="344.20" x2="393.84" y2="347.20" stroke="#2a2a2a" stroke-width="1.2"/>
<text x="393.84" y="356.40" font-size="8.30" text-anchor="middle" font-weight="bold" >550</text>
<line x1="421.07" y1="344.20" x2="421.07" y2="347.20" stroke="#2a2a2a" stroke-width="1.2"/>
<text x="421.07" y="356.40" font-size="8.30" text-anchor="middle" font-weight="bold" >600</text>
<line x1="448.30" y1="344.20" x2="448.30" y2="347.20" stroke="#2a2a2a" stroke-width="1.2"/>
<text x="448.30" y="356.40" font-size="8.30" text-anchor="middle" font-weight="bold" >650</text>
<line x1="271.31" y1="344.20" x2="271.31" y2="345.70" stroke="#2a2a2a" stroke-width="1"/>
<line x1="298.54" y1="344.20" x2="298.54" y2="345.70" stroke="#2a2a2a" stroke-width="1"/>
<line x1="325.77" y1="344.20" x2="325.77" y2="345.70" stroke="#2a2a2a" stroke-width="1"/>
<line x1="353.00" y1="344.20" x2="353.00" y2="345.70" stroke="#2a2a2a" stroke-width="1"/>
<line x1="380.23" y1="344.20" x2="380.23" y2="345.70" stroke="#2a2a2a" stroke-width="1"/>
<line x1="407.46" y1="344.20" x2="407.46" y2="345.70" stroke="#2a2a2a" stroke-width="1"/>
<line x1="434.69" y1="344.20" x2="434.69" y2="345.70" stroke="#2a2a2a" stroke-width="1"/>
<line x1="254.70" y1="344.20" x2="257.70" y2="344.20" stroke="#2a2a2a" stroke-width="1.2"/>
<text x="252.70" y="346.52" font-size="8.30" text-anchor="end" font-weight="bold" >0.0</text>
<line x1="254.70" y1="306.88" x2="257.70" y2="306.88" stroke="#2a2a2a" stroke-width="1.2"/>
<text x="252.70" y="309.20" font-size="8.30" text-anchor="end" font-weight="bold" >0.2</text>
<line x1="254.70" y1="269.55" x2="257.70" y2="269.55" stroke="#2a2a2a" stroke-width="1.2"/>
<text x="252.70" y="271.87" font-size="8.30" text-anchor="end" font-weight="bold" >0.4</text>
<line x1="254.70" y1="232.22" x2="257.70" y2="232.22" stroke="#2a2a2a" stroke-width="1.2"/>
<text x="252.70" y="234.55" font-size="8.30" text-anchor="end" font-weight="bold" >0.6</text>
<line x1="254.70" y1="194.90" x2="257.70" y2="194.90" stroke="#2a2a2a" stroke-width="1.2"/>
<text x="252.70" y="197.22" font-size="8.30" text-anchor="end" font-weight="bold" >0.8</text>
<line x1="255.90" y1="325.54" x2="257.70" y2="325.54" stroke="#2a2a2a" stroke-width="1"/>
<line x1="255.90" y1="288.21" x2="257.70" y2="288.21" stroke="#2a2a2a" stroke-width="1"/>
<line x1="255.90" y1="250.89" x2="257.70" y2="250.89" stroke="#2a2a2a" stroke-width="1"/>
<line x1="255.90" y1="213.56" x2="257.70" y2="213.56" stroke="#2a2a2a" stroke-width="1"/>
<text x="353.20" y="373.80" font-size="13.35" text-anchor="middle" font-weight="bold" textLength="95.2" lengthAdjust="spacingAndGlyphs">Wavelength (nm)</text>
<text transform="translate(237.60 269.60) rotate(-90)" x="0" y="0" font-size="13.35" text-anchor="middle" font-weight="bold" textLength="91.8" lengthAdjust="spacingAndGlyphs">Absorbance (a.u)</text>
<text x="229.20" y="210.20" font-size="18.20" text-anchor="start" font-weight="bold" >E</text>
</svg>
</body></html>
